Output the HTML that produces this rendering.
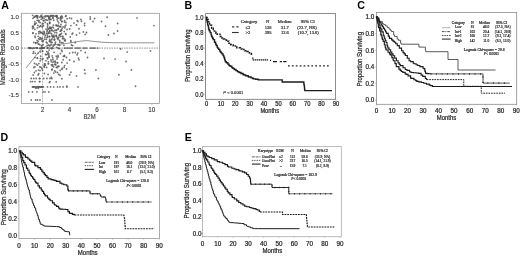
<!DOCTYPE html>
<html><head><meta charset="utf-8"><title>Figure</title>
<style>
html,body{margin:0;padding:0;background:#fff;}
body{width:520px;height:256px;overflow:hidden;font-family:"Liberation Sans",sans-serif;}
svg{display:block;}
</style></head><body>
<svg width="520" height="256" viewBox="0 0 520 256"><defs><filter id="bl" x="0" y="0" width="520" height="256" filterUnits="userSpaceOnUse"><feGaussianBlur stdDeviation="0.35"/></filter></defs><rect width="520" height="256" fill="#fff"/><g filter="url(#bl)"><text transform="translate(1.3 9.0)" font-size="10.6" text-anchor="start" font-family="Liberation Sans, sans-serif" fill="#000" stroke="#000" stroke-width="0" font-weight="bold" >A</text>
<rect x="21.5" y="13.3" width="138.0" height="90.2" fill="none" stroke="#999" stroke-width="0.8"/>
<line x1="20.3" y1="17" x2="21.5" y2="17" stroke="#999" stroke-width="0.6"/>
<text transform="translate(18.9 19.2)" font-size="6.1" text-anchor="end" font-family="Liberation Sans, sans-serif" fill="#404040" stroke="#404040" stroke-width="0.14" font-weight="normal" >1.0</text>
<line x1="20.3" y1="32.6" x2="21.5" y2="32.6" stroke="#999" stroke-width="0.6"/>
<text transform="translate(18.9 34.800000000000004)" font-size="6.1" text-anchor="end" font-family="Liberation Sans, sans-serif" fill="#404040" stroke="#404040" stroke-width="0.14" font-weight="normal" >0.5</text>
<line x1="20.3" y1="48.1" x2="21.5" y2="48.1" stroke="#999" stroke-width="0.6"/>
<text transform="translate(18.9 50.300000000000004)" font-size="6.1" text-anchor="end" font-family="Liberation Sans, sans-serif" fill="#404040" stroke="#404040" stroke-width="0.14" font-weight="normal" >0.0</text>
<line x1="20.3" y1="63.7" x2="21.5" y2="63.7" stroke="#999" stroke-width="0.6"/>
<text transform="translate(18.9 65.9)" font-size="6.1" text-anchor="end" font-family="Liberation Sans, sans-serif" fill="#404040" stroke="#404040" stroke-width="0.14" font-weight="normal" >-0.5</text>
<line x1="20.3" y1="79.3" x2="21.5" y2="79.3" stroke="#999" stroke-width="0.6"/>
<text transform="translate(18.9 81.5)" font-size="6.1" text-anchor="end" font-family="Liberation Sans, sans-serif" fill="#404040" stroke="#404040" stroke-width="0.14" font-weight="normal" >-1.0</text>
<line x1="20.3" y1="94.9" x2="21.5" y2="94.9" stroke="#999" stroke-width="0.6"/>
<text transform="translate(18.9 97.10000000000001)" font-size="6.1" text-anchor="end" font-family="Liberation Sans, sans-serif" fill="#404040" stroke="#404040" stroke-width="0.14" font-weight="normal" >-1.5</text>
<line x1="42.6" y1="103.6" x2="42.6" y2="104.8" stroke="#999" stroke-width="0.6"/>
<text transform="translate(42.6 111.55)" font-size="6.3" text-anchor="middle" font-family="Liberation Sans, sans-serif" fill="#404040" stroke="#404040" stroke-width="0.14" font-weight="normal" >2</text>
<line x1="69.6" y1="103.6" x2="69.6" y2="104.8" stroke="#999" stroke-width="0.6"/>
<text transform="translate(69.6 111.55)" font-size="6.3" text-anchor="middle" font-family="Liberation Sans, sans-serif" fill="#404040" stroke="#404040" stroke-width="0.14" font-weight="normal" >4</text>
<line x1="97" y1="103.6" x2="97" y2="104.8" stroke="#999" stroke-width="0.6"/>
<text transform="translate(97 111.55)" font-size="6.3" text-anchor="middle" font-family="Liberation Sans, sans-serif" fill="#404040" stroke="#404040" stroke-width="0.14" font-weight="normal" >6</text>
<line x1="124.4" y1="103.6" x2="124.4" y2="104.8" stroke="#999" stroke-width="0.6"/>
<text transform="translate(124.4 111.55)" font-size="6.3" text-anchor="middle" font-family="Liberation Sans, sans-serif" fill="#404040" stroke="#404040" stroke-width="0.14" font-weight="normal" >8</text>
<line x1="151.8" y1="103.6" x2="151.8" y2="104.8" stroke="#999" stroke-width="0.6"/>
<text transform="translate(151.8 111.55)" font-size="6.3" text-anchor="middle" font-family="Liberation Sans, sans-serif" fill="#404040" stroke="#404040" stroke-width="0.14" font-weight="normal" >10</text>
<text transform="translate(89.5 119.25) scale(0.9 1)" font-size="6.6" text-anchor="middle" font-family="Liberation Sans, sans-serif" fill="#404040" stroke="#404040" stroke-width="0.14" font-weight="normal" >B2M</text>
<text transform="translate(4.6 57.2) rotate(-90) scale(0.923 1)" font-size="6.5" text-anchor="middle" font-family="Liberation Sans, sans-serif" fill="#333" stroke="#333" stroke-width="0.18" font-weight="normal" >Martingale Residuals</text>
<line x1="21.5" y1="48.1" x2="159.5" y2="48.1" stroke="#777" stroke-width="0.8" stroke-dasharray="1.5 1"/>
<line x1="42.5" y1="13.5" x2="42.5" y2="103.8" stroke="#8a8a8a" stroke-width="0.6" stroke-dasharray="2 0.8"/>
<polyline points="26.00,68.00 30.00,63.00 34.00,58.00 38.00,53.00 42.50,48.00 47.00,46.00 52.00,45.00 58.00,44.30 66.00,43.60 74.00,42.30 80.00,41.20 86.50,40.60 93.00,41.30 101.50,42.20 112.00,42.70 130.00,42.80 154.50,42.80" fill="none" stroke="#666" stroke-width="0.7" stroke-linejoin="miter"/>
<circle cx="64.60" cy="20.60" r="0.9" fill="#585858" fill-opacity="0.85"/>
<circle cx="67.10" cy="18.75" r="0.9" fill="#585858" fill-opacity="0.85"/>
<circle cx="69.60" cy="18.10" r="0.9" fill="#585858" fill-opacity="0.85"/>
<circle cx="71.50" cy="18.50" r="0.9" fill="#585858" fill-opacity="0.85"/>
<circle cx="65.90" cy="22.50" r="0.9" fill="#585858" fill-opacity="0.85"/>
<circle cx="65.00" cy="26.25" r="0.9" fill="#585858" fill-opacity="0.85"/>
<circle cx="67.10" cy="29.40" r="0.9" fill="#585858" fill-opacity="0.85"/>
<circle cx="69.60" cy="29.00" r="0.9" fill="#585858" fill-opacity="0.85"/>
<circle cx="70.90" cy="25.60" r="0.9" fill="#585858" fill-opacity="0.85"/>
<circle cx="74.00" cy="23.10" r="0.9" fill="#585858" fill-opacity="0.85"/>
<circle cx="77.10" cy="20.60" r="0.9" fill="#585858" fill-opacity="0.85"/>
<circle cx="78.00" cy="21.50" r="0.9" fill="#585858" fill-opacity="0.85"/>
<circle cx="80.90" cy="19.40" r="0.9" fill="#585858" fill-opacity="0.85"/>
<circle cx="81.50" cy="21.25" r="0.9" fill="#585858" fill-opacity="0.85"/>
<circle cx="76.50" cy="25.00" r="0.9" fill="#585858" fill-opacity="0.85"/>
<circle cx="79.00" cy="28.75" r="0.9" fill="#585858" fill-opacity="0.85"/>
<circle cx="84.60" cy="23.50" r="0.9" fill="#585858" fill-opacity="0.85"/>
<circle cx="84.60" cy="25.60" r="0.9" fill="#585858" fill-opacity="0.85"/>
<circle cx="90.25" cy="16.90" r="0.9" fill="#585858" fill-opacity="0.85"/>
<circle cx="90.25" cy="19.00" r="0.9" fill="#585858" fill-opacity="0.85"/>
<circle cx="94.60" cy="18.50" r="0.9" fill="#585858" fill-opacity="0.85"/>
<circle cx="93.00" cy="21.50" r="0.9" fill="#585858" fill-opacity="0.85"/>
<circle cx="101.50" cy="21.50" r="0.9" fill="#585858" fill-opacity="0.85"/>
<circle cx="107.10" cy="17.25" r="0.9" fill="#585858" fill-opacity="0.85"/>
<circle cx="105.50" cy="26.25" r="0.9" fill="#585858" fill-opacity="0.85"/>
<circle cx="108.40" cy="35.00" r="0.9" fill="#585858" fill-opacity="0.85"/>
<circle cx="83.40" cy="31.90" r="0.9" fill="#585858" fill-opacity="0.85"/>
<circle cx="86.50" cy="32.50" r="0.9" fill="#585858" fill-opacity="0.85"/>
<circle cx="79.60" cy="33.10" r="0.9" fill="#585858" fill-opacity="0.85"/>
<circle cx="76.50" cy="35.00" r="0.9" fill="#585858" fill-opacity="0.85"/>
<circle cx="72.75" cy="33.10" r="0.9" fill="#585858" fill-opacity="0.85"/>
<circle cx="72.10" cy="34.00" r="0.9" fill="#585858" fill-opacity="0.85"/>
<circle cx="65.90" cy="34.40" r="0.9" fill="#585858" fill-opacity="0.85"/>
<circle cx="70.25" cy="36.90" r="0.9" fill="#585858" fill-opacity="0.85"/>
<circle cx="85.25" cy="34.40" r="0.9" fill="#585858" fill-opacity="0.85"/>
<circle cx="70.90" cy="40.60" r="0.9" fill="#585858" fill-opacity="0.85"/>
<circle cx="64.60" cy="40.60" r="0.9" fill="#585858" fill-opacity="0.85"/>
<circle cx="137.00" cy="18.10" r="0.9" fill="#585858" fill-opacity="0.85"/>
<circle cx="117.60" cy="23.50" r="0.9" fill="#585858" fill-opacity="0.85"/>
<circle cx="117.60" cy="31.00" r="0.9" fill="#585858" fill-opacity="0.85"/>
<circle cx="113.90" cy="33.50" r="0.9" fill="#585858" fill-opacity="0.85"/>
<circle cx="153.90" cy="25.60" r="0.9" fill="#585858" fill-opacity="0.85"/>
<circle cx="69.60" cy="53.10" r="0.9" fill="#585858" fill-opacity="0.85"/>
<circle cx="72.75" cy="52.50" r="0.9" fill="#585858" fill-opacity="0.85"/>
<circle cx="75.25" cy="52.50" r="0.9" fill="#585858" fill-opacity="0.85"/>
<circle cx="77.75" cy="53.10" r="0.9" fill="#585858" fill-opacity="0.85"/>
<circle cx="77.10" cy="54.75" r="0.9" fill="#585858" fill-opacity="0.85"/>
<circle cx="80.90" cy="50.60" r="0.9" fill="#585858" fill-opacity="0.85"/>
<circle cx="85.25" cy="52.50" r="0.9" fill="#585858" fill-opacity="0.85"/>
<circle cx="66.50" cy="57.50" r="0.9" fill="#585858" fill-opacity="0.85"/>
<circle cx="64.60" cy="56.25" r="0.9" fill="#585858" fill-opacity="0.85"/>
<circle cx="69.60" cy="60.00" r="0.9" fill="#585858" fill-opacity="0.85"/>
<circle cx="74.00" cy="61.50" r="0.9" fill="#585858" fill-opacity="0.85"/>
<circle cx="78.40" cy="58.10" r="0.9" fill="#585858" fill-opacity="0.85"/>
<circle cx="79.00" cy="59.75" r="0.9" fill="#585858" fill-opacity="0.85"/>
<circle cx="87.50" cy="57.50" r="0.9" fill="#585858" fill-opacity="0.85"/>
<circle cx="104.00" cy="58.50" r="0.9" fill="#585858" fill-opacity="0.85"/>
<circle cx="67.10" cy="63.10" r="0.9" fill="#585858" fill-opacity="0.85"/>
<circle cx="66.50" cy="69.00" r="0.9" fill="#585858" fill-opacity="0.85"/>
<circle cx="84.60" cy="70.00" r="0.9" fill="#585858" fill-opacity="0.85"/>
<circle cx="95.90" cy="70.00" r="0.9" fill="#585858" fill-opacity="0.85"/>
<circle cx="64.60" cy="65.60" r="0.9" fill="#585858" fill-opacity="0.85"/>
<circle cx="71.50" cy="45.00" r="0.9" fill="#585858" fill-opacity="0.85"/>
<circle cx="72.75" cy="45.60" r="0.9" fill="#585858" fill-opacity="0.85"/>
<circle cx="70.90" cy="41.90" r="0.9" fill="#585858" fill-opacity="0.85"/>
<circle cx="75.25" cy="42.50" r="0.9" fill="#585858" fill-opacity="0.85"/>
<circle cx="120.50" cy="49.00" r="0.9" fill="#585858" fill-opacity="0.85"/>
<circle cx="127.25" cy="52.10" r="0.9" fill="#585858" fill-opacity="0.85"/>
<circle cx="150.50" cy="50.90" r="0.9" fill="#585858" fill-opacity="0.85"/>
<circle cx="115.10" cy="59.10" r="0.9" fill="#585858" fill-opacity="0.85"/>
<circle cx="126.00" cy="61.50" r="0.9" fill="#585858" fill-opacity="0.85"/>
<circle cx="131.40" cy="70.00" r="0.9" fill="#585858" fill-opacity="0.85"/>
<circle cx="70.90" cy="72.25" r="0.9" fill="#585858" fill-opacity="0.85"/>
<circle cx="69.60" cy="74.75" r="0.9" fill="#585858" fill-opacity="0.85"/>
<circle cx="76.50" cy="75.90" r="0.9" fill="#585858" fill-opacity="0.85"/>
<circle cx="85.00" cy="73.50" r="0.9" fill="#585858" fill-opacity="0.85"/>
<circle cx="98.40" cy="78.50" r="0.9" fill="#585858" fill-opacity="0.85"/>
<circle cx="66.75" cy="86.25" r="0.9" fill="#585858" fill-opacity="0.85"/>
<circle cx="78.00" cy="86.90" r="0.9" fill="#585858" fill-opacity="0.85"/>
<circle cx="118.90" cy="74.75" r="0.9" fill="#585858" fill-opacity="0.85"/>
<circle cx="135.50" cy="86.25" r="0.9" fill="#585858" fill-opacity="0.85"/>
<circle cx="64.50" cy="48.10" r="0.9" fill="#585858" fill-opacity="0.85"/>
<circle cx="66.00" cy="48.10" r="0.9" fill="#585858" fill-opacity="0.85"/>
<circle cx="67.50" cy="48.10" r="0.9" fill="#585858" fill-opacity="0.85"/>
<circle cx="69.00" cy="48.10" r="0.9" fill="#585858" fill-opacity="0.85"/>
<circle cx="70.50" cy="48.10" r="0.9" fill="#585858" fill-opacity="0.85"/>
<circle cx="72.00" cy="48.10" r="0.9" fill="#585858" fill-opacity="0.85"/>
<circle cx="75.50" cy="48.10" r="0.9" fill="#585858" fill-opacity="0.85"/>
<circle cx="77.00" cy="48.10" r="0.9" fill="#585858" fill-opacity="0.85"/>
<circle cx="78.50" cy="48.10" r="0.9" fill="#585858" fill-opacity="0.85"/>
<circle cx="80.00" cy="48.10" r="0.9" fill="#585858" fill-opacity="0.85"/>
<circle cx="83.50" cy="48.10" r="0.9" fill="#585858" fill-opacity="0.85"/>
<circle cx="85.00" cy="48.10" r="0.9" fill="#585858" fill-opacity="0.85"/>
<circle cx="86.50" cy="48.10" r="0.9" fill="#585858" fill-opacity="0.85"/>
<circle cx="90.50" cy="48.10" r="0.9" fill="#585858" fill-opacity="0.85"/>
<circle cx="92.00" cy="48.10" r="0.9" fill="#585858" fill-opacity="0.85"/>
<circle cx="93.50" cy="48.10" r="0.9" fill="#585858" fill-opacity="0.85"/>
<circle cx="95.00" cy="48.10" r="0.9" fill="#585858" fill-opacity="0.85"/>
<circle cx="97.70" cy="48.10" r="0.9" fill="#585858" fill-opacity="0.85"/>
<circle cx="31.25" cy="78.50" r="0.9" fill="#585858" fill-opacity="0.85"/>
<circle cx="33.75" cy="78.50" r="0.9" fill="#585858" fill-opacity="0.85"/>
<circle cx="36.25" cy="78.50" r="0.9" fill="#585858" fill-opacity="0.85"/>
<circle cx="39.40" cy="78.50" r="0.9" fill="#585858" fill-opacity="0.85"/>
<circle cx="39.90" cy="78.50" r="0.9" fill="#585858" fill-opacity="0.85"/>
<circle cx="43.75" cy="78.50" r="0.9" fill="#585858" fill-opacity="0.85"/>
<circle cx="46.90" cy="78.50" r="0.9" fill="#585858" fill-opacity="0.85"/>
<circle cx="50.00" cy="78.50" r="0.9" fill="#585858" fill-opacity="0.85"/>
<circle cx="51.90" cy="78.50" r="0.9" fill="#585858" fill-opacity="0.85"/>
<circle cx="30.60" cy="81.60" r="0.9" fill="#585858" fill-opacity="0.85"/>
<circle cx="32.50" cy="81.60" r="0.9" fill="#585858" fill-opacity="0.85"/>
<circle cx="35.00" cy="81.60" r="0.9" fill="#585858" fill-opacity="0.85"/>
<circle cx="39.40" cy="81.60" r="0.9" fill="#585858" fill-opacity="0.85"/>
<circle cx="39.90" cy="81.60" r="0.9" fill="#585858" fill-opacity="0.85"/>
<circle cx="50.00" cy="81.60" r="0.9" fill="#585858" fill-opacity="0.85"/>
<circle cx="33.10" cy="86.90" r="0.9" fill="#585858" fill-opacity="0.85"/>
<circle cx="35.60" cy="86.90" r="0.9" fill="#585858" fill-opacity="0.85"/>
<circle cx="37.50" cy="86.90" r="0.9" fill="#585858" fill-opacity="0.85"/>
<circle cx="39.40" cy="86.90" r="0.9" fill="#585858" fill-opacity="0.85"/>
<circle cx="41.25" cy="86.90" r="0.9" fill="#585858" fill-opacity="0.85"/>
<circle cx="42.50" cy="86.90" r="0.9" fill="#585858" fill-opacity="0.85"/>
<circle cx="47.50" cy="86.90" r="0.9" fill="#585858" fill-opacity="0.85"/>
<circle cx="50.60" cy="86.90" r="0.9" fill="#585858" fill-opacity="0.85"/>
<circle cx="53.75" cy="86.90" r="0.9" fill="#585858" fill-opacity="0.85"/>
<circle cx="57.50" cy="86.90" r="0.9" fill="#585858" fill-opacity="0.85"/>
<circle cx="60.00" cy="86.90" r="0.9" fill="#585858" fill-opacity="0.85"/>
<circle cx="63.10" cy="86.90" r="0.9" fill="#585858" fill-opacity="0.85"/>
<circle cx="66.90" cy="86.90" r="0.9" fill="#585858" fill-opacity="0.85"/>
<circle cx="35.60" cy="88.10" r="0.9" fill="#585858" fill-opacity="0.85"/>
<circle cx="36.90" cy="88.10" r="0.9" fill="#585858" fill-opacity="0.85"/>
<circle cx="38.50" cy="88.10" r="0.9" fill="#585858" fill-opacity="0.85"/>
<circle cx="32.50" cy="86.90" r="0.9" fill="#585858" fill-opacity="0.85"/>
<circle cx="33.60" cy="86.90" r="0.9" fill="#585858" fill-opacity="0.85"/>
<circle cx="34.50" cy="86.90" r="0.9" fill="#585858" fill-opacity="0.85"/>
<circle cx="36.30" cy="86.90" r="0.9" fill="#585858" fill-opacity="0.85"/>
<circle cx="38.20" cy="86.90" r="0.9" fill="#585858" fill-opacity="0.85"/>
<circle cx="38.90" cy="86.90" r="0.9" fill="#585858" fill-opacity="0.85"/>
<circle cx="40.30" cy="86.90" r="0.9" fill="#585858" fill-opacity="0.85"/>
<circle cx="40.90" cy="86.90" r="0.9" fill="#585858" fill-opacity="0.85"/>
<circle cx="41.90" cy="86.90" r="0.9" fill="#585858" fill-opacity="0.85"/>
<circle cx="43.40" cy="86.90" r="0.9" fill="#585858" fill-opacity="0.85"/>
<circle cx="28.75" cy="91.90" r="0.9" fill="#585858" fill-opacity="0.85"/>
<circle cx="32.50" cy="91.90" r="0.9" fill="#585858" fill-opacity="0.85"/>
<circle cx="36.90" cy="91.90" r="0.9" fill="#585858" fill-opacity="0.85"/>
<circle cx="43.10" cy="91.90" r="0.9" fill="#585858" fill-opacity="0.85"/>
<circle cx="45.00" cy="91.90" r="0.9" fill="#585858" fill-opacity="0.85"/>
<circle cx="48.75" cy="91.90" r="0.9" fill="#585858" fill-opacity="0.85"/>
<circle cx="31.25" cy="100.00" r="0.9" fill="#585858" fill-opacity="0.85"/>
<circle cx="35.60" cy="100.00" r="0.9" fill="#585858" fill-opacity="0.85"/>
<circle cx="37.50" cy="100.00" r="0.9" fill="#585858" fill-opacity="0.85"/>
<circle cx="40.00" cy="100.00" r="0.9" fill="#585858" fill-opacity="0.85"/>
<circle cx="51.90" cy="100.00" r="0.9" fill="#585858" fill-opacity="0.85"/>
<circle cx="33.10" cy="75.00" r="0.9" fill="#585858" fill-opacity="0.85"/>
<circle cx="34.40" cy="72.50" r="0.9" fill="#585858" fill-opacity="0.85"/>
<circle cx="38.10" cy="75.00" r="0.9" fill="#585858" fill-opacity="0.85"/>
<circle cx="38.75" cy="73.75" r="0.9" fill="#585858" fill-opacity="0.85"/>
<circle cx="40.00" cy="70.60" r="0.9" fill="#585858" fill-opacity="0.85"/>
<circle cx="44.40" cy="73.50" r="0.9" fill="#585858" fill-opacity="0.85"/>
<circle cx="48.10" cy="74.40" r="0.9" fill="#585858" fill-opacity="0.85"/>
<circle cx="51.25" cy="77.50" r="0.9" fill="#585858" fill-opacity="0.85"/>
<circle cx="53.75" cy="73.10" r="0.9" fill="#585858" fill-opacity="0.85"/>
<circle cx="55.60" cy="71.90" r="0.9" fill="#585858" fill-opacity="0.85"/>
<circle cx="57.50" cy="72.50" r="0.9" fill="#585858" fill-opacity="0.85"/>
<circle cx="58.75" cy="74.40" r="0.9" fill="#585858" fill-opacity="0.85"/>
<circle cx="60.00" cy="75.25" r="0.9" fill="#585858" fill-opacity="0.85"/>
<circle cx="61.90" cy="78.75" r="0.9" fill="#585858" fill-opacity="0.85"/>
<circle cx="56.25" cy="81.90" r="0.9" fill="#585858" fill-opacity="0.85"/>
<circle cx="49.40" cy="82.50" r="0.9" fill="#585858" fill-opacity="0.85"/>
<circle cx="41.98" cy="47.57" r="0.9" fill="#585858" fill-opacity="0.85"/>
<circle cx="42.40" cy="47.89" r="0.9" fill="#585858" fill-opacity="0.85"/>
<circle cx="43.75" cy="47.96" r="0.9" fill="#585858" fill-opacity="0.85"/>
<circle cx="43.88" cy="48.02" r="0.9" fill="#585858" fill-opacity="0.85"/>
<circle cx="47.66" cy="48.13" r="0.9" fill="#585858" fill-opacity="0.85"/>
<circle cx="37.21" cy="47.99" r="0.9" fill="#585858" fill-opacity="0.85"/>
<circle cx="30.40" cy="48.24" r="0.9" fill="#585858" fill-opacity="0.85"/>
<circle cx="28.84" cy="47.74" r="0.9" fill="#585858" fill-opacity="0.85"/>
<circle cx="58.93" cy="48.46" r="0.9" fill="#585858" fill-opacity="0.85"/>
<circle cx="47.20" cy="48.02" r="0.9" fill="#585858" fill-opacity="0.85"/>
<circle cx="32.54" cy="48.41" r="0.9" fill="#585858" fill-opacity="0.85"/>
<circle cx="29.41" cy="48.13" r="0.9" fill="#585858" fill-opacity="0.85"/>
<circle cx="33.59" cy="48.10" r="0.9" fill="#585858" fill-opacity="0.85"/>
<circle cx="42.35" cy="48.16" r="0.9" fill="#585858" fill-opacity="0.85"/>
<circle cx="41.60" cy="48.27" r="0.9" fill="#585858" fill-opacity="0.85"/>
<circle cx="47.99" cy="47.85" r="0.9" fill="#585858" fill-opacity="0.85"/>
<circle cx="43.49" cy="47.96" r="0.9" fill="#585858" fill-opacity="0.85"/>
<circle cx="36.40" cy="47.86" r="0.9" fill="#585858" fill-opacity="0.85"/>
<circle cx="59.42" cy="48.58" r="0.9" fill="#585858" fill-opacity="0.85"/>
<circle cx="50.15" cy="48.09" r="0.9" fill="#585858" fill-opacity="0.85"/>
<circle cx="37.59" cy="48.13" r="0.9" fill="#585858" fill-opacity="0.85"/>
<circle cx="29.75" cy="48.30" r="0.9" fill="#585858" fill-opacity="0.85"/>
<circle cx="52.02" cy="47.71" r="0.9" fill="#585858" fill-opacity="0.85"/>
<circle cx="39.87" cy="48.38" r="0.9" fill="#585858" fill-opacity="0.85"/>
<circle cx="58.16" cy="48.10" r="0.9" fill="#585858" fill-opacity="0.85"/>
<circle cx="34.21" cy="48.09" r="0.9" fill="#585858" fill-opacity="0.85"/>
<circle cx="56.63" cy="47.41" r="0.9" fill="#585858" fill-opacity="0.85"/>
<circle cx="40.22" cy="48.23" r="0.9" fill="#585858" fill-opacity="0.85"/>
<circle cx="29.84" cy="47.80" r="0.9" fill="#585858" fill-opacity="0.85"/>
<circle cx="36.13" cy="47.78" r="0.9" fill="#585858" fill-opacity="0.85"/>
<circle cx="30.29" cy="47.78" r="0.9" fill="#585858" fill-opacity="0.85"/>
<circle cx="51.76" cy="48.66" r="0.9" fill="#585858" fill-opacity="0.85"/>
<circle cx="31.28" cy="48.10" r="0.9" fill="#585858" fill-opacity="0.85"/>
<circle cx="29.42" cy="48.22" r="0.9" fill="#585858" fill-opacity="0.85"/>
<circle cx="53.00" cy="48.24" r="0.9" fill="#585858" fill-opacity="0.85"/>
<circle cx="41.82" cy="48.39" r="0.9" fill="#585858" fill-opacity="0.85"/>
<circle cx="58.05" cy="44.98" r="0.9" fill="#585858" fill-opacity="0.85"/>
<circle cx="59.83" cy="42.00" r="0.9" fill="#585858" fill-opacity="0.85"/>
<circle cx="43.54" cy="20.59" r="0.9" fill="#585858" fill-opacity="0.85"/>
<circle cx="35.98" cy="33.82" r="0.9" fill="#585858" fill-opacity="0.85"/>
<circle cx="57.94" cy="38.17" r="0.9" fill="#585858" fill-opacity="0.85"/>
<circle cx="48.78" cy="17.01" r="0.9" fill="#585858" fill-opacity="0.85"/>
<circle cx="55.89" cy="25.27" r="0.9" fill="#585858" fill-opacity="0.85"/>
<circle cx="38.22" cy="41.37" r="0.9" fill="#585858" fill-opacity="0.85"/>
<circle cx="57.17" cy="19.82" r="0.9" fill="#585858" fill-opacity="0.85"/>
<circle cx="60.45" cy="20.01" r="0.9" fill="#585858" fill-opacity="0.85"/>
<circle cx="44.93" cy="37.05" r="0.9" fill="#585858" fill-opacity="0.85"/>
<circle cx="51.06" cy="44.26" r="0.9" fill="#585858" fill-opacity="0.85"/>
<circle cx="42.23" cy="26.79" r="0.9" fill="#585858" fill-opacity="0.85"/>
<circle cx="58.78" cy="44.69" r="0.9" fill="#585858" fill-opacity="0.85"/>
<circle cx="57.82" cy="21.36" r="0.9" fill="#585858" fill-opacity="0.85"/>
<circle cx="51.44" cy="39.90" r="0.9" fill="#585858" fill-opacity="0.85"/>
<circle cx="44.32" cy="32.34" r="0.9" fill="#585858" fill-opacity="0.85"/>
<circle cx="52.20" cy="36.42" r="0.9" fill="#585858" fill-opacity="0.85"/>
<circle cx="60.23" cy="31.14" r="0.9" fill="#585858" fill-opacity="0.85"/>
<circle cx="40.19" cy="22.56" r="0.9" fill="#585858" fill-opacity="0.85"/>
<circle cx="65.94" cy="15.77" r="0.9" fill="#585858" fill-opacity="0.85"/>
<circle cx="49.69" cy="22.24" r="0.9" fill="#585858" fill-opacity="0.85"/>
<circle cx="49.72" cy="19.64" r="0.9" fill="#585858" fill-opacity="0.85"/>
<circle cx="56.90" cy="25.18" r="0.9" fill="#585858" fill-opacity="0.85"/>
<circle cx="47.69" cy="24.98" r="0.9" fill="#585858" fill-opacity="0.85"/>
<circle cx="51.20" cy="42.21" r="0.9" fill="#585858" fill-opacity="0.85"/>
<circle cx="52.02" cy="35.45" r="0.9" fill="#585858" fill-opacity="0.85"/>
<circle cx="47.73" cy="16.15" r="0.9" fill="#585858" fill-opacity="0.85"/>
<circle cx="50.52" cy="15.80" r="0.9" fill="#585858" fill-opacity="0.85"/>
<circle cx="43.22" cy="44.70" r="0.9" fill="#585858" fill-opacity="0.85"/>
<circle cx="58.16" cy="28.68" r="0.9" fill="#585858" fill-opacity="0.85"/>
<circle cx="53.14" cy="45.98" r="0.9" fill="#585858" fill-opacity="0.85"/>
<circle cx="42.77" cy="17.06" r="0.9" fill="#585858" fill-opacity="0.85"/>
<circle cx="35.80" cy="42.53" r="0.9" fill="#585858" fill-opacity="0.85"/>
<circle cx="47.84" cy="36.98" r="0.9" fill="#585858" fill-opacity="0.85"/>
<circle cx="47.26" cy="43.04" r="0.9" fill="#585858" fill-opacity="0.85"/>
<circle cx="34.68" cy="24.67" r="0.9" fill="#585858" fill-opacity="0.85"/>
<circle cx="42.98" cy="41.52" r="0.9" fill="#585858" fill-opacity="0.85"/>
<circle cx="32.58" cy="26.66" r="0.9" fill="#585858" fill-opacity="0.85"/>
<circle cx="64.19" cy="31.57" r="0.9" fill="#585858" fill-opacity="0.85"/>
<circle cx="32.89" cy="33.26" r="0.9" fill="#585858" fill-opacity="0.85"/>
<circle cx="41.56" cy="32.74" r="0.9" fill="#585858" fill-opacity="0.85"/>
<circle cx="53.48" cy="36.68" r="0.9" fill="#585858" fill-opacity="0.85"/>
<circle cx="38.76" cy="31.83" r="0.9" fill="#585858" fill-opacity="0.85"/>
<circle cx="34.06" cy="17.26" r="0.9" fill="#585858" fill-opacity="0.85"/>
<circle cx="54.89" cy="32.49" r="0.9" fill="#585858" fill-opacity="0.85"/>
<circle cx="51.00" cy="28.64" r="0.9" fill="#585858" fill-opacity="0.85"/>
<circle cx="58.21" cy="29.16" r="0.9" fill="#585858" fill-opacity="0.85"/>
<circle cx="34.75" cy="21.86" r="0.9" fill="#585858" fill-opacity="0.85"/>
<circle cx="36.54" cy="15.68" r="0.9" fill="#585858" fill-opacity="0.85"/>
<circle cx="47.73" cy="20.36" r="0.9" fill="#585858" fill-opacity="0.85"/>
<circle cx="46.34" cy="42.23" r="0.9" fill="#585858" fill-opacity="0.85"/>
<circle cx="42.29" cy="23.93" r="0.9" fill="#585858" fill-opacity="0.85"/>
<circle cx="49.68" cy="27.08" r="0.9" fill="#585858" fill-opacity="0.85"/>
<circle cx="46.40" cy="39.30" r="0.9" fill="#585858" fill-opacity="0.85"/>
<circle cx="40.69" cy="25.66" r="0.9" fill="#585858" fill-opacity="0.85"/>
<circle cx="44.11" cy="18.58" r="0.9" fill="#585858" fill-opacity="0.85"/>
<circle cx="48.27" cy="29.13" r="0.9" fill="#585858" fill-opacity="0.85"/>
<circle cx="35.01" cy="36.11" r="0.9" fill="#585858" fill-opacity="0.85"/>
<circle cx="50.96" cy="19.45" r="0.9" fill="#585858" fill-opacity="0.85"/>
<circle cx="44.02" cy="20.68" r="0.9" fill="#585858" fill-opacity="0.85"/>
<circle cx="59.17" cy="26.56" r="0.9" fill="#585858" fill-opacity="0.85"/>
<circle cx="43.34" cy="23.59" r="0.9" fill="#585858" fill-opacity="0.85"/>
<circle cx="43.25" cy="40.43" r="0.9" fill="#585858" fill-opacity="0.85"/>
<circle cx="52.88" cy="17.04" r="0.9" fill="#585858" fill-opacity="0.85"/>
<circle cx="62.11" cy="16.29" r="0.9" fill="#585858" fill-opacity="0.85"/>
<circle cx="49.70" cy="23.40" r="0.9" fill="#585858" fill-opacity="0.85"/>
<circle cx="38.65" cy="38.81" r="0.9" fill="#585858" fill-opacity="0.85"/>
<circle cx="64.89" cy="27.83" r="0.9" fill="#585858" fill-opacity="0.85"/>
<circle cx="55.98" cy="15.93" r="0.9" fill="#585858" fill-opacity="0.85"/>
<circle cx="61.22" cy="18.70" r="0.9" fill="#585858" fill-opacity="0.85"/>
<circle cx="45.48" cy="16.40" r="0.9" fill="#585858" fill-opacity="0.85"/>
<circle cx="44.21" cy="33.43" r="0.9" fill="#585858" fill-opacity="0.85"/>
<circle cx="43.72" cy="34.25" r="0.9" fill="#585858" fill-opacity="0.85"/>
<circle cx="50.69" cy="28.46" r="0.9" fill="#585858" fill-opacity="0.85"/>
<circle cx="45.92" cy="19.71" r="0.9" fill="#585858" fill-opacity="0.85"/>
<circle cx="56.18" cy="36.21" r="0.9" fill="#585858" fill-opacity="0.85"/>
<circle cx="61.03" cy="24.49" r="0.9" fill="#585858" fill-opacity="0.85"/>
<circle cx="48.85" cy="32.92" r="0.9" fill="#585858" fill-opacity="0.85"/>
<circle cx="39.76" cy="37.62" r="0.9" fill="#585858" fill-opacity="0.85"/>
<circle cx="37.38" cy="42.74" r="0.9" fill="#585858" fill-opacity="0.85"/>
<circle cx="53.40" cy="27.79" r="0.9" fill="#585858" fill-opacity="0.85"/>
<circle cx="47.12" cy="33.28" r="0.9" fill="#585858" fill-opacity="0.85"/>
<circle cx="47.10" cy="31.44" r="0.9" fill="#585858" fill-opacity="0.85"/>
<circle cx="38.94" cy="44.05" r="0.9" fill="#585858" fill-opacity="0.85"/>
<circle cx="37.16" cy="20.43" r="0.9" fill="#585858" fill-opacity="0.85"/>
<circle cx="60.73" cy="36.47" r="0.9" fill="#585858" fill-opacity="0.85"/>
<circle cx="38.21" cy="36.33" r="0.9" fill="#585858" fill-opacity="0.85"/>
<circle cx="63.94" cy="45.32" r="0.9" fill="#585858" fill-opacity="0.85"/>
<circle cx="52.07" cy="38.78" r="0.9" fill="#585858" fill-opacity="0.85"/>
<circle cx="41.98" cy="41.00" r="0.9" fill="#585858" fill-opacity="0.85"/>
<circle cx="51.07" cy="27.39" r="0.9" fill="#585858" fill-opacity="0.85"/>
<circle cx="60.93" cy="30.85" r="0.9" fill="#585858" fill-opacity="0.85"/>
<circle cx="57.14" cy="16.01" r="0.9" fill="#585858" fill-opacity="0.85"/>
<circle cx="39.74" cy="39.41" r="0.9" fill="#585858" fill-opacity="0.85"/>
<circle cx="62.54" cy="38.69" r="0.9" fill="#585858" fill-opacity="0.85"/>
<circle cx="61.35" cy="29.77" r="0.9" fill="#585858" fill-opacity="0.85"/>
<circle cx="62.89" cy="36.52" r="0.9" fill="#585858" fill-opacity="0.85"/>
<circle cx="38.31" cy="44.10" r="0.9" fill="#585858" fill-opacity="0.85"/>
<circle cx="56.82" cy="17.32" r="0.9" fill="#585858" fill-opacity="0.85"/>
<circle cx="58.69" cy="22.85" r="0.9" fill="#585858" fill-opacity="0.85"/>
<circle cx="51.86" cy="29.97" r="0.9" fill="#585858" fill-opacity="0.85"/>
<circle cx="37.15" cy="40.58" r="0.9" fill="#585858" fill-opacity="0.85"/>
<circle cx="43.54" cy="25.56" r="0.9" fill="#585858" fill-opacity="0.85"/>
<circle cx="49.94" cy="40.64" r="0.9" fill="#585858" fill-opacity="0.85"/>
<circle cx="65.26" cy="40.83" r="0.9" fill="#585858" fill-opacity="0.85"/>
<circle cx="48.77" cy="44.90" r="0.9" fill="#585858" fill-opacity="0.85"/>
<circle cx="38.33" cy="20.32" r="0.9" fill="#585858" fill-opacity="0.85"/>
<circle cx="51.73" cy="30.39" r="0.9" fill="#585858" fill-opacity="0.85"/>
<circle cx="37.63" cy="15.99" r="0.9" fill="#585858" fill-opacity="0.85"/>
<circle cx="54.44" cy="44.93" r="0.9" fill="#585858" fill-opacity="0.85"/>
<circle cx="41.24" cy="39.13" r="0.9" fill="#585858" fill-opacity="0.85"/>
<circle cx="53.23" cy="31.25" r="0.9" fill="#585858" fill-opacity="0.85"/>
<circle cx="36.12" cy="16.84" r="0.9" fill="#585858" fill-opacity="0.85"/>
<circle cx="56.34" cy="30.47" r="0.9" fill="#585858" fill-opacity="0.85"/>
<circle cx="49.24" cy="28.40" r="0.9" fill="#585858" fill-opacity="0.85"/>
<circle cx="32.62" cy="28.50" r="0.9" fill="#585858" fill-opacity="0.85"/>
<circle cx="50.68" cy="33.03" r="0.9" fill="#585858" fill-opacity="0.85"/>
<circle cx="63.52" cy="38.40" r="0.9" fill="#585858" fill-opacity="0.85"/>
<circle cx="51.12" cy="15.89" r="0.9" fill="#585858" fill-opacity="0.85"/>
<circle cx="59.21" cy="35.31" r="0.9" fill="#585858" fill-opacity="0.85"/>
<circle cx="48.62" cy="33.09" r="0.9" fill="#585858" fill-opacity="0.85"/>
<circle cx="54.85" cy="30.21" r="0.9" fill="#585858" fill-opacity="0.85"/>
<circle cx="42.48" cy="26.54" r="0.9" fill="#585858" fill-opacity="0.85"/>
<circle cx="61.65" cy="30.18" r="0.9" fill="#585858" fill-opacity="0.85"/>
<circle cx="61.41" cy="33.47" r="0.9" fill="#585858" fill-opacity="0.85"/>
<circle cx="65.60" cy="33.71" r="0.9" fill="#585858" fill-opacity="0.85"/>
<circle cx="32.98" cy="32.83" r="0.9" fill="#585858" fill-opacity="0.85"/>
<circle cx="49.31" cy="41.03" r="0.9" fill="#585858" fill-opacity="0.85"/>
<circle cx="57.97" cy="39.45" r="0.9" fill="#585858" fill-opacity="0.85"/>
<circle cx="47.38" cy="23.58" r="0.9" fill="#585858" fill-opacity="0.85"/>
<circle cx="49.80" cy="45.94" r="0.9" fill="#585858" fill-opacity="0.85"/>
<circle cx="62.28" cy="21.39" r="0.9" fill="#585858" fill-opacity="0.85"/>
<circle cx="49.50" cy="36.62" r="0.9" fill="#585858" fill-opacity="0.85"/>
<circle cx="54.44" cy="40.19" r="0.9" fill="#585858" fill-opacity="0.85"/>
<circle cx="63.14" cy="26.80" r="0.9" fill="#585858" fill-opacity="0.85"/>
<circle cx="57.09" cy="26.22" r="0.9" fill="#585858" fill-opacity="0.85"/>
<circle cx="47.35" cy="35.25" r="0.9" fill="#585858" fill-opacity="0.85"/>
<circle cx="56.14" cy="35.15" r="0.9" fill="#585858" fill-opacity="0.85"/>
<circle cx="37.39" cy="18.05" r="0.9" fill="#585858" fill-opacity="0.85"/>
<circle cx="34.82" cy="29.33" r="0.9" fill="#585858" fill-opacity="0.85"/>
<circle cx="53.90" cy="35.26" r="0.9" fill="#585858" fill-opacity="0.85"/>
<circle cx="57.34" cy="17.81" r="0.9" fill="#585858" fill-opacity="0.85"/>
<circle cx="61.25" cy="16.20" r="0.9" fill="#585858" fill-opacity="0.85"/>
<circle cx="39.83" cy="31.44" r="0.9" fill="#585858" fill-opacity="0.85"/>
<circle cx="48.99" cy="18.85" r="0.9" fill="#585858" fill-opacity="0.85"/>
<circle cx="59.64" cy="40.47" r="0.9" fill="#585858" fill-opacity="0.85"/>
<circle cx="52.64" cy="17.54" r="0.9" fill="#585858" fill-opacity="0.85"/>
<circle cx="35.07" cy="23.93" r="0.9" fill="#585858" fill-opacity="0.85"/>
<circle cx="62.16" cy="28.20" r="0.9" fill="#585858" fill-opacity="0.85"/>
<circle cx="40.71" cy="32.48" r="0.9" fill="#585858" fill-opacity="0.85"/>
<circle cx="53.23" cy="15.71" r="0.9" fill="#585858" fill-opacity="0.85"/>
<circle cx="46.27" cy="19.78" r="0.9" fill="#585858" fill-opacity="0.85"/>
<circle cx="33.59" cy="27.80" r="0.9" fill="#585858" fill-opacity="0.85"/>
<circle cx="53.77" cy="20.16" r="0.9" fill="#585858" fill-opacity="0.85"/>
<circle cx="41.12" cy="19.34" r="0.9" fill="#585858" fill-opacity="0.85"/>
<circle cx="52.07" cy="42.28" r="0.9" fill="#585858" fill-opacity="0.85"/>
<circle cx="54.65" cy="39.15" r="0.9" fill="#585858" fill-opacity="0.85"/>
<circle cx="46.62" cy="33.41" r="0.9" fill="#585858" fill-opacity="0.85"/>
<circle cx="33.08" cy="26.27" r="0.9" fill="#585858" fill-opacity="0.85"/>
<circle cx="41.75" cy="45.39" r="0.9" fill="#585858" fill-opacity="0.85"/>
<circle cx="44.88" cy="39.26" r="0.9" fill="#585858" fill-opacity="0.85"/>
<circle cx="53.03" cy="37.22" r="0.9" fill="#585858" fill-opacity="0.85"/>
<circle cx="60.60" cy="26.31" r="0.9" fill="#585858" fill-opacity="0.85"/>
<circle cx="33.83" cy="42.40" r="0.9" fill="#585858" fill-opacity="0.85"/>
<circle cx="40.71" cy="37.99" r="0.9" fill="#585858" fill-opacity="0.85"/>
<circle cx="56.54" cy="36.49" r="0.9" fill="#585858" fill-opacity="0.85"/>
<circle cx="41.14" cy="16.95" r="0.9" fill="#585858" fill-opacity="0.85"/>
<circle cx="45.90" cy="15.66" r="0.9" fill="#585858" fill-opacity="0.85"/>
<circle cx="42.66" cy="33.23" r="0.9" fill="#585858" fill-opacity="0.85"/>
<circle cx="59.64" cy="34.61" r="0.9" fill="#585858" fill-opacity="0.85"/>
<circle cx="43.95" cy="31.47" r="0.9" fill="#585858" fill-opacity="0.85"/>
<circle cx="41.61" cy="46.00" r="0.9" fill="#585858" fill-opacity="0.85"/>
<circle cx="51.62" cy="33.83" r="0.9" fill="#585858" fill-opacity="0.85"/>
<circle cx="47.24" cy="45.30" r="0.9" fill="#585858" fill-opacity="0.85"/>
<circle cx="35.39" cy="15.89" r="0.9" fill="#585858" fill-opacity="0.85"/>
<circle cx="38.95" cy="21.88" r="0.9" fill="#585858" fill-opacity="0.85"/>
<circle cx="40.38" cy="26.18" r="0.9" fill="#585858" fill-opacity="0.85"/>
<circle cx="58.46" cy="25.39" r="0.9" fill="#585858" fill-opacity="0.85"/>
<circle cx="62.93" cy="42.71" r="0.9" fill="#585858" fill-opacity="0.85"/>
<circle cx="39.90" cy="44.85" r="0.9" fill="#585858" fill-opacity="0.85"/>
<circle cx="49.21" cy="31.41" r="0.9" fill="#585858" fill-opacity="0.85"/>
<circle cx="54.16" cy="39.42" r="0.9" fill="#585858" fill-opacity="0.85"/>
<circle cx="55.18" cy="43.56" r="0.9" fill="#585858" fill-opacity="0.85"/>
<circle cx="50.15" cy="19.21" r="0.9" fill="#585858" fill-opacity="0.85"/>
<circle cx="46.08" cy="29.10" r="0.9" fill="#585858" fill-opacity="0.85"/>
<circle cx="56.71" cy="32.81" r="0.9" fill="#585858" fill-opacity="0.85"/>
<circle cx="40.51" cy="32.38" r="0.9" fill="#585858" fill-opacity="0.85"/>
<circle cx="65.90" cy="25.09" r="0.9" fill="#585858" fill-opacity="0.85"/>
<circle cx="49.83" cy="31.18" r="0.9" fill="#585858" fill-opacity="0.85"/>
<circle cx="49.73" cy="23.02" r="0.9" fill="#585858" fill-opacity="0.85"/>
<circle cx="56.00" cy="16.31" r="0.9" fill="#585858" fill-opacity="0.85"/>
<circle cx="35.14" cy="37.35" r="0.9" fill="#585858" fill-opacity="0.85"/>
<circle cx="61.49" cy="42.71" r="0.9" fill="#585858" fill-opacity="0.85"/>
<circle cx="52.72" cy="27.04" r="0.9" fill="#585858" fill-opacity="0.85"/>
<circle cx="61.68" cy="21.51" r="0.9" fill="#585858" fill-opacity="0.85"/>
<circle cx="49.56" cy="36.50" r="0.9" fill="#585858" fill-opacity="0.85"/>
<circle cx="65.14" cy="39.66" r="0.9" fill="#585858" fill-opacity="0.85"/>
<circle cx="48.86" cy="33.24" r="0.9" fill="#585858" fill-opacity="0.85"/>
<circle cx="50.20" cy="27.85" r="0.9" fill="#585858" fill-opacity="0.85"/>
<circle cx="56.48" cy="30.14" r="0.9" fill="#585858" fill-opacity="0.85"/>
<circle cx="60.45" cy="18.27" r="0.9" fill="#585858" fill-opacity="0.85"/>
<circle cx="37.38" cy="27.85" r="0.9" fill="#585858" fill-opacity="0.85"/>
<circle cx="64.58" cy="22.04" r="0.9" fill="#585858" fill-opacity="0.85"/>
<circle cx="42.35" cy="38.35" r="0.9" fill="#585858" fill-opacity="0.85"/>
<circle cx="47.18" cy="30.22" r="0.9" fill="#585858" fill-opacity="0.85"/>
<circle cx="54.28" cy="36.88" r="0.9" fill="#585858" fill-opacity="0.85"/>
<circle cx="55.48" cy="42.27" r="0.9" fill="#585858" fill-opacity="0.85"/>
<circle cx="63.94" cy="38.57" r="0.9" fill="#585858" fill-opacity="0.85"/>
<circle cx="45.21" cy="22.31" r="0.9" fill="#585858" fill-opacity="0.85"/>
<circle cx="45.21" cy="35.24" r="0.9" fill="#585858" fill-opacity="0.85"/>
<circle cx="38.93" cy="33.53" r="0.9" fill="#585858" fill-opacity="0.85"/>
<circle cx="46.98" cy="37.52" r="0.9" fill="#585858" fill-opacity="0.85"/>
<circle cx="59.81" cy="45.29" r="0.9" fill="#585858" fill-opacity="0.85"/>
<circle cx="40.90" cy="16.24" r="0.9" fill="#585858" fill-opacity="0.85"/>
<circle cx="60.13" cy="26.91" r="0.9" fill="#585858" fill-opacity="0.85"/>
<circle cx="49.73" cy="30.57" r="0.9" fill="#585858" fill-opacity="0.85"/>
<circle cx="49.83" cy="16.99" r="0.9" fill="#585858" fill-opacity="0.85"/>
<circle cx="37.83" cy="25.32" r="0.9" fill="#585858" fill-opacity="0.85"/>
<circle cx="48.18" cy="28.57" r="0.9" fill="#585858" fill-opacity="0.85"/>
<circle cx="58.80" cy="37.24" r="0.9" fill="#585858" fill-opacity="0.85"/>
<circle cx="58.49" cy="18.16" r="0.9" fill="#585858" fill-opacity="0.85"/>
<circle cx="49.71" cy="39.41" r="0.9" fill="#585858" fill-opacity="0.85"/>
<circle cx="39.02" cy="20.66" r="0.9" fill="#585858" fill-opacity="0.85"/>
<circle cx="39.21" cy="26.88" r="0.9" fill="#585858" fill-opacity="0.85"/>
<circle cx="53.38" cy="25.19" r="0.9" fill="#585858" fill-opacity="0.85"/>
<circle cx="34.59" cy="23.89" r="0.9" fill="#585858" fill-opacity="0.85"/>
<circle cx="35.69" cy="43.24" r="0.9" fill="#585858" fill-opacity="0.85"/>
<circle cx="47.41" cy="26.98" r="0.9" fill="#585858" fill-opacity="0.85"/>
<circle cx="50.09" cy="41.66" r="0.9" fill="#585858" fill-opacity="0.85"/>
<circle cx="60.78" cy="17.13" r="0.9" fill="#585858" fill-opacity="0.85"/>
<circle cx="36.26" cy="23.11" r="0.9" fill="#585858" fill-opacity="0.85"/>
<circle cx="57.36" cy="38.27" r="0.9" fill="#585858" fill-opacity="0.85"/>
<circle cx="60.55" cy="34.48" r="0.9" fill="#585858" fill-opacity="0.85"/>
<circle cx="62.48" cy="36.57" r="0.9" fill="#585858" fill-opacity="0.85"/>
<circle cx="50.67" cy="15.76" r="0.9" fill="#585858" fill-opacity="0.85"/>
<circle cx="44.44" cy="16.44" r="0.9" fill="#585858" fill-opacity="0.85"/>
<circle cx="52.67" cy="15.68" r="0.9" fill="#585858" fill-opacity="0.85"/>
<circle cx="42.43" cy="17.57" r="0.9" fill="#585858" fill-opacity="0.85"/>
<circle cx="32.87" cy="18.31" r="0.9" fill="#585858" fill-opacity="0.85"/>
<circle cx="42.43" cy="18.22" r="0.9" fill="#585858" fill-opacity="0.85"/>
<circle cx="35.62" cy="16.28" r="0.9" fill="#585858" fill-opacity="0.85"/>
<circle cx="48.81" cy="18.29" r="0.9" fill="#585858" fill-opacity="0.85"/>
<circle cx="65.55" cy="16.46" r="0.9" fill="#585858" fill-opacity="0.85"/>
<circle cx="48.18" cy="16.47" r="0.9" fill="#585858" fill-opacity="0.85"/>
<circle cx="45.75" cy="16.54" r="0.9" fill="#585858" fill-opacity="0.85"/>
<circle cx="62.44" cy="17.85" r="0.9" fill="#585858" fill-opacity="0.85"/>
<circle cx="34.25" cy="17.10" r="0.9" fill="#585858" fill-opacity="0.85"/>
<circle cx="47.97" cy="15.87" r="0.9" fill="#585858" fill-opacity="0.85"/>
<circle cx="56.76" cy="16.20" r="0.9" fill="#585858" fill-opacity="0.85"/>
<circle cx="32.67" cy="15.37" r="0.9" fill="#585858" fill-opacity="0.85"/>
<circle cx="39.33" cy="17.12" r="0.9" fill="#585858" fill-opacity="0.85"/>
<circle cx="52.98" cy="18.39" r="0.9" fill="#585858" fill-opacity="0.85"/>
<circle cx="41.30" cy="15.50" r="0.9" fill="#585858" fill-opacity="0.85"/>
<circle cx="37.29" cy="17.05" r="0.9" fill="#585858" fill-opacity="0.85"/>
<circle cx="56.49" cy="15.56" r="0.9" fill="#585858" fill-opacity="0.85"/>
<circle cx="48.94" cy="17.66" r="0.9" fill="#585858" fill-opacity="0.85"/>
<circle cx="60.63" cy="17.33" r="0.9" fill="#585858" fill-opacity="0.85"/>
<circle cx="51.13" cy="15.76" r="0.9" fill="#585858" fill-opacity="0.85"/>
<circle cx="54.28" cy="16.09" r="0.9" fill="#585858" fill-opacity="0.85"/>
<circle cx="37.49" cy="16.01" r="0.9" fill="#585858" fill-opacity="0.85"/>
<circle cx="52.40" cy="66.06" r="0.9" fill="#585858" fill-opacity="0.85"/>
<circle cx="37.72" cy="58.28" r="0.9" fill="#585858" fill-opacity="0.85"/>
<circle cx="36.33" cy="64.12" r="0.9" fill="#585858" fill-opacity="0.85"/>
<circle cx="37.45" cy="65.14" r="0.9" fill="#585858" fill-opacity="0.85"/>
<circle cx="51.46" cy="64.87" r="0.9" fill="#585858" fill-opacity="0.85"/>
<circle cx="44.39" cy="67.35" r="0.9" fill="#585858" fill-opacity="0.85"/>
<circle cx="39.76" cy="66.92" r="0.9" fill="#585858" fill-opacity="0.85"/>
<circle cx="33.92" cy="67.51" r="0.9" fill="#585858" fill-opacity="0.85"/>
<circle cx="34.47" cy="63.45" r="0.9" fill="#585858" fill-opacity="0.85"/>
<circle cx="34.95" cy="66.85" r="0.9" fill="#585858" fill-opacity="0.85"/>
<circle cx="47.76" cy="58.85" r="0.9" fill="#585858" fill-opacity="0.85"/>
<circle cx="44.72" cy="65.57" r="0.9" fill="#585858" fill-opacity="0.85"/>
<circle cx="54.62" cy="70.81" r="0.9" fill="#585858" fill-opacity="0.85"/>
<circle cx="45.44" cy="54.29" r="0.9" fill="#585858" fill-opacity="0.85"/>
<circle cx="57.04" cy="58.92" r="0.9" fill="#585858" fill-opacity="0.85"/>
<circle cx="42.60" cy="51.24" r="0.9" fill="#585858" fill-opacity="0.85"/>
<circle cx="48.48" cy="63.61" r="0.9" fill="#585858" fill-opacity="0.85"/>
<circle cx="57.58" cy="66.29" r="0.9" fill="#585858" fill-opacity="0.85"/>
<circle cx="52.93" cy="59.63" r="0.9" fill="#585858" fill-opacity="0.85"/>
<circle cx="55.44" cy="62.27" r="0.9" fill="#585858" fill-opacity="0.85"/>
<circle cx="54.02" cy="52.28" r="0.9" fill="#585858" fill-opacity="0.85"/>
<circle cx="48.86" cy="53.88" r="0.9" fill="#585858" fill-opacity="0.85"/>
<circle cx="52.86" cy="65.06" r="0.9" fill="#585858" fill-opacity="0.85"/>
<circle cx="61.91" cy="62.49" r="0.9" fill="#585858" fill-opacity="0.85"/>
<circle cx="52.22" cy="55.90" r="0.9" fill="#585858" fill-opacity="0.85"/>
<circle cx="60.41" cy="53.62" r="0.9" fill="#585858" fill-opacity="0.85"/>
<circle cx="51.34" cy="61.51" r="0.9" fill="#585858" fill-opacity="0.85"/>
<circle cx="40.86" cy="67.16" r="0.9" fill="#585858" fill-opacity="0.85"/>
<circle cx="41.78" cy="68.64" r="0.9" fill="#585858" fill-opacity="0.85"/>
<circle cx="52.16" cy="69.20" r="0.9" fill="#585858" fill-opacity="0.85"/>
<circle cx="42.62" cy="70.10" r="0.9" fill="#585858" fill-opacity="0.85"/>
<circle cx="42.47" cy="51.04" r="0.9" fill="#585858" fill-opacity="0.85"/>
<circle cx="51.84" cy="69.90" r="0.9" fill="#585858" fill-opacity="0.85"/>
<circle cx="55.27" cy="61.08" r="0.9" fill="#585858" fill-opacity="0.85"/>
<circle cx="40.18" cy="60.83" r="0.9" fill="#585858" fill-opacity="0.85"/>
<circle cx="45.01" cy="63.81" r="0.9" fill="#585858" fill-opacity="0.85"/>
<circle cx="50.95" cy="59.93" r="0.9" fill="#585858" fill-opacity="0.85"/>
<circle cx="52.84" cy="57.80" r="0.9" fill="#585858" fill-opacity="0.85"/>
<circle cx="57.53" cy="62.73" r="0.9" fill="#585858" fill-opacity="0.85"/>
<circle cx="35.27" cy="53.30" r="0.9" fill="#585858" fill-opacity="0.85"/>
<circle cx="58.00" cy="55.45" r="0.9" fill="#585858" fill-opacity="0.85"/>
<circle cx="62.22" cy="68.25" r="0.9" fill="#585858" fill-opacity="0.85"/>
<circle cx="36.02" cy="70.86" r="0.9" fill="#585858" fill-opacity="0.85"/>
<circle cx="48.90" cy="55.60" r="0.9" fill="#585858" fill-opacity="0.85"/>
<circle cx="44.01" cy="66.18" r="0.9" fill="#585858" fill-opacity="0.85"/>
<circle cx="49.17" cy="50.03" r="0.9" fill="#585858" fill-opacity="0.85"/>
<circle cx="64.12" cy="67.26" r="0.9" fill="#585858" fill-opacity="0.85"/>
<circle cx="33.60" cy="51.73" r="0.9" fill="#585858" fill-opacity="0.85"/>
<circle cx="48.21" cy="52.04" r="0.9" fill="#585858" fill-opacity="0.85"/>
<circle cx="38.53" cy="70.07" r="0.9" fill="#585858" fill-opacity="0.85"/>
<circle cx="52.73" cy="62.32" r="0.9" fill="#585858" fill-opacity="0.85"/>
<circle cx="58.73" cy="66.58" r="0.9" fill="#585858" fill-opacity="0.85"/>
<circle cx="42.87" cy="58.76" r="0.9" fill="#585858" fill-opacity="0.85"/>
<circle cx="56.28" cy="67.35" r="0.9" fill="#585858" fill-opacity="0.85"/>
<circle cx="47.97" cy="54.38" r="0.9" fill="#585858" fill-opacity="0.85"/>
<circle cx="38.00" cy="53.31" r="0.9" fill="#585858" fill-opacity="0.85"/>
<circle cx="46.62" cy="67.47" r="0.9" fill="#585858" fill-opacity="0.85"/>
<circle cx="46.67" cy="51.60" r="0.9" fill="#585858" fill-opacity="0.85"/>
<circle cx="63.39" cy="56.42" r="0.9" fill="#585858" fill-opacity="0.85"/>
<circle cx="34.98" cy="57.55" r="0.9" fill="#585858" fill-opacity="0.85"/>
<circle cx="55.44" cy="64.43" r="0.9" fill="#585858" fill-opacity="0.85"/>
<circle cx="63.18" cy="59.70" r="0.9" fill="#585858" fill-opacity="0.85"/>
<circle cx="60.17" cy="70.31" r="0.9" fill="#585858" fill-opacity="0.85"/>
<circle cx="61.60" cy="50.26" r="0.9" fill="#585858" fill-opacity="0.85"/>
<circle cx="37.14" cy="57.92" r="0.9" fill="#585858" fill-opacity="0.85"/>
<circle cx="48.40" cy="61.85" r="0.9" fill="#585858" fill-opacity="0.85"/>
<circle cx="42.36" cy="59.62" r="0.9" fill="#585858" fill-opacity="0.85"/>
<circle cx="53.64" cy="66.79" r="0.9" fill="#585858" fill-opacity="0.85"/>
<circle cx="56.17" cy="56.10" r="0.9" fill="#585858" fill-opacity="0.85"/>
<circle cx="40.64" cy="56.26" r="0.9" fill="#585858" fill-opacity="0.85"/>
<circle cx="44.42" cy="64.00" r="0.9" fill="#585858" fill-opacity="0.85"/>
<circle cx="64.34" cy="55.39" r="0.9" fill="#585858" fill-opacity="0.85"/>
<circle cx="58.24" cy="56.92" r="0.9" fill="#585858" fill-opacity="0.85"/>
<circle cx="45.38" cy="65.20" r="0.9" fill="#585858" fill-opacity="0.85"/>
<circle cx="40.33" cy="51.94" r="0.9" fill="#585858" fill-opacity="0.85"/>
<circle cx="54.81" cy="64.23" r="0.9" fill="#585858" fill-opacity="0.85"/>
<circle cx="55.76" cy="64.87" r="0.9" fill="#585858" fill-opacity="0.85"/>
<circle cx="57.13" cy="67.58" r="0.9" fill="#585858" fill-opacity="0.85"/>
<circle cx="46.22" cy="54.76" r="0.9" fill="#585858" fill-opacity="0.85"/>
<circle cx="47.71" cy="53.30" r="0.9" fill="#585858" fill-opacity="0.85"/>
<circle cx="62.08" cy="51.53" r="0.9" fill="#585858" fill-opacity="0.85"/>
<circle cx="61.93" cy="69.33" r="0.9" fill="#585858" fill-opacity="0.85"/>
<circle cx="38.90" cy="63.59" r="0.9" fill="#585858" fill-opacity="0.85"/>
<circle cx="58.71" cy="66.10" r="0.9" fill="#585858" fill-opacity="0.85"/>
<circle cx="57.04" cy="56.96" r="0.9" fill="#585858" fill-opacity="0.85"/>
<circle cx="40.60" cy="58.65" r="0.9" fill="#585858" fill-opacity="0.85"/>
<circle cx="52.14" cy="64.70" r="0.9" fill="#585858" fill-opacity="0.85"/>
<circle cx="48.19" cy="63.86" r="0.9" fill="#585858" fill-opacity="0.85"/>
<circle cx="48.82" cy="56.95" r="0.9" fill="#585858" fill-opacity="0.85"/>
<circle cx="49.18" cy="57.19" r="0.9" fill="#585858" fill-opacity="0.85"/>
<circle cx="47.25" cy="57.93" r="0.9" fill="#585858" fill-opacity="0.85"/>
<circle cx="45.96" cy="60.70" r="0.9" fill="#585858" fill-opacity="0.85"/>
<circle cx="57.38" cy="62.84" r="0.9" fill="#585858" fill-opacity="0.85"/>
<circle cx="33.12" cy="53.33" r="0.9" fill="#585858" fill-opacity="0.85"/>
<circle cx="53.94" cy="61.51" r="0.9" fill="#585858" fill-opacity="0.85"/>
<text transform="translate(184.4 9.0)" font-size="10.6" text-anchor="start" font-family="Liberation Sans, sans-serif" fill="#000" stroke="#000" stroke-width="0" font-weight="bold" >B</text>
<rect x="205.6" y="13.6" width="130.00000000000003" height="85.7" fill="none" stroke="#707070" stroke-width="0.8"/>
<line x1="206.5" y1="99.3" x2="206.5" y2="100.5" stroke="#707070" stroke-width="0.6"/>
<text transform="translate(206.5 105.9554) scale(0.92 1)" font-size="6.3" text-anchor="middle" font-family="Liberation Sans, sans-serif" fill="#262626" stroke="#262626" stroke-width="0.22" font-weight="normal" >0</text>
<line x1="220.87777777777777" y1="99.3" x2="220.87777777777777" y2="100.5" stroke="#707070" stroke-width="0.6"/>
<text transform="translate(220.87777777777777 105.9554) scale(0.92 1)" font-size="6.3" text-anchor="middle" font-family="Liberation Sans, sans-serif" fill="#262626" stroke="#262626" stroke-width="0.22" font-weight="normal" >10</text>
<line x1="235.25555555555556" y1="99.3" x2="235.25555555555556" y2="100.5" stroke="#707070" stroke-width="0.6"/>
<text transform="translate(235.25555555555556 105.9554) scale(0.92 1)" font-size="6.3" text-anchor="middle" font-family="Liberation Sans, sans-serif" fill="#262626" stroke="#262626" stroke-width="0.22" font-weight="normal" >20</text>
<line x1="249.63333333333333" y1="99.3" x2="249.63333333333333" y2="100.5" stroke="#707070" stroke-width="0.6"/>
<text transform="translate(249.63333333333333 105.9554) scale(0.92 1)" font-size="6.3" text-anchor="middle" font-family="Liberation Sans, sans-serif" fill="#262626" stroke="#262626" stroke-width="0.22" font-weight="normal" >30</text>
<line x1="264.0111111111111" y1="99.3" x2="264.0111111111111" y2="100.5" stroke="#707070" stroke-width="0.6"/>
<text transform="translate(264.0111111111111 105.9554) scale(0.92 1)" font-size="6.3" text-anchor="middle" font-family="Liberation Sans, sans-serif" fill="#262626" stroke="#262626" stroke-width="0.22" font-weight="normal" >40</text>
<line x1="278.38888888888886" y1="99.3" x2="278.38888888888886" y2="100.5" stroke="#707070" stroke-width="0.6"/>
<text transform="translate(278.38888888888886 105.9554) scale(0.92 1)" font-size="6.3" text-anchor="middle" font-family="Liberation Sans, sans-serif" fill="#262626" stroke="#262626" stroke-width="0.22" font-weight="normal" >50</text>
<line x1="292.76666666666665" y1="99.3" x2="292.76666666666665" y2="100.5" stroke="#707070" stroke-width="0.6"/>
<text transform="translate(292.76666666666665 105.9554) scale(0.92 1)" font-size="6.3" text-anchor="middle" font-family="Liberation Sans, sans-serif" fill="#262626" stroke="#262626" stroke-width="0.22" font-weight="normal" >60</text>
<line x1="307.14444444444445" y1="99.3" x2="307.14444444444445" y2="100.5" stroke="#707070" stroke-width="0.6"/>
<text transform="translate(307.14444444444445 105.9554) scale(0.92 1)" font-size="6.3" text-anchor="middle" font-family="Liberation Sans, sans-serif" fill="#262626" stroke="#262626" stroke-width="0.22" font-weight="normal" >70</text>
<line x1="321.5222222222222" y1="99.3" x2="321.5222222222222" y2="100.5" stroke="#707070" stroke-width="0.6"/>
<text transform="translate(321.5222222222222 105.9554) scale(0.92 1)" font-size="6.3" text-anchor="middle" font-family="Liberation Sans, sans-serif" fill="#262626" stroke="#262626" stroke-width="0.22" font-weight="normal" >80</text>
<line x1="335.9" y1="99.3" x2="335.9" y2="100.5" stroke="#707070" stroke-width="0.6"/>
<text transform="translate(335.9 105.9554) scale(0.92 1)" font-size="6.3" text-anchor="middle" font-family="Liberation Sans, sans-serif" fill="#262626" stroke="#262626" stroke-width="0.22" font-weight="normal" >90</text>
<line x1="204.4" y1="17.3" x2="205.6" y2="17.3" stroke="#707070" stroke-width="0.6"/>
<text transform="translate(203.4 19.5554) scale(0.92 1)" font-size="6.3" text-anchor="end" font-family="Liberation Sans, sans-serif" fill="#262626" stroke="#262626" stroke-width="0.22" font-weight="normal" >1.0</text>
<line x1="204.4" y1="32.76" x2="205.6" y2="32.76" stroke="#707070" stroke-width="0.6"/>
<text transform="translate(203.4 35.0154) scale(0.92 1)" font-size="6.3" text-anchor="end" font-family="Liberation Sans, sans-serif" fill="#262626" stroke="#262626" stroke-width="0.22" font-weight="normal" >0.8</text>
<line x1="204.4" y1="48.22" x2="205.6" y2="48.22" stroke="#707070" stroke-width="0.6"/>
<text transform="translate(203.4 50.4754) scale(0.92 1)" font-size="6.3" text-anchor="end" font-family="Liberation Sans, sans-serif" fill="#262626" stroke="#262626" stroke-width="0.22" font-weight="normal" >0.6</text>
<line x1="204.4" y1="63.67999999999999" x2="205.6" y2="63.67999999999999" stroke="#707070" stroke-width="0.6"/>
<text transform="translate(203.4 65.93539999999999) scale(0.92 1)" font-size="6.3" text-anchor="end" font-family="Liberation Sans, sans-serif" fill="#262626" stroke="#262626" stroke-width="0.22" font-weight="normal" >0.4</text>
<line x1="204.4" y1="79.14" x2="205.6" y2="79.14" stroke="#707070" stroke-width="0.6"/>
<text transform="translate(203.4 81.3954) scale(0.92 1)" font-size="6.3" text-anchor="end" font-family="Liberation Sans, sans-serif" fill="#262626" stroke="#262626" stroke-width="0.22" font-weight="normal" >0.2</text>
<line x1="204.4" y1="94.6" x2="205.6" y2="94.6" stroke="#707070" stroke-width="0.6"/>
<text transform="translate(203.4 96.85539999999999) scale(0.92 1)" font-size="6.3" text-anchor="end" font-family="Liberation Sans, sans-serif" fill="#262626" stroke="#262626" stroke-width="0.22" font-weight="normal" >0.0</text>
<text transform="translate(269.7 113.061844) scale(0.90045 1)" font-size="6.318" text-anchor="middle" font-family="Liberation Sans, sans-serif" fill="#262626" stroke="#262626" stroke-width="0.22" font-weight="normal" >Months</text>
<text transform="translate(189.5 55.6) rotate(-90) scale(0.9222 1)" font-size="6.318" text-anchor="middle" font-family="Liberation Sans, sans-serif" fill="#262626" stroke="#262626" stroke-width="0.22" font-weight="normal" >Proportion Surviving</text>
<polyline points="206.00,17.40 206.96,17.40 206.96,19.48 208.06,19.48 208.06,21.87 208.81,21.87 208.81,23.49 209.60,23.49 209.60,25.20 211.71,25.20 211.71,28.37 213.20,28.37 213.20,30.60 213.40,30.60 213.40,30.90 215.97,30.90 215.97,33.19 217.10,33.19 217.10,34.20 219.98,34.20 219.98,36.53 221.80,36.53 221.80,38.00 223.38,38.00 223.38,39.08 224.74,39.08 224.74,40.00 226.41,40.00 226.41,41.14 226.50,41.14 226.50,41.20 228.95,41.20 228.95,43.13 230.70,43.13 230.70,44.51 231.20,44.51 231.20,44.90 233.26,44.90 233.26,45.93 235.55,45.93 235.55,47.07 236.80,47.07 236.80,47.70 240.38,47.70 240.38,48.91 242.05,48.91 242.05,49.48 242.40,49.48 242.40,49.60 244.94,49.60 244.94,50.63 247.10,50.63 247.10,51.50 249.43,51.50 249.43,53.03 250.30,53.03 250.30,53.60 251.40,53.60 251.40,55.00" fill="none" stroke="#1c1c1c" stroke-width="1.5" stroke-dasharray="1.9 1.1" stroke-linejoin="miter"/>
<polyline points="252.60,57.50 253.20,59.90 268.00,59.90" fill="none" stroke="#1c1c1c" stroke-width="1.2" stroke-dasharray="1.5 0.5" stroke-linejoin="miter"/>
<polyline points="270.00,60.30 271.00,60.30" fill="none" stroke="#1c1c1c" stroke-width="1.2" stroke-linejoin="miter"/>
<polyline points="273.00,61.70 287.60,61.70 287.80,65.80" fill="none" stroke="#1c1c1c" stroke-width="1.2" stroke-dasharray="4 2.8 2.2 1.2 3.2 30" stroke-linejoin="miter"/>
<polyline points="288.00,65.80 330.00,65.80" fill="none" stroke="#1c1c1c" stroke-width="1.25" stroke-dasharray="1.7 2.2" stroke-linejoin="miter"/>
<polyline points="206.00,17.40 206.61,17.40 206.61,20.04 207.15,20.04 207.15,22.38 207.61,22.38 207.61,24.37 207.89,24.37 207.89,25.57 208.44,25.57 208.44,27.93 208.78,27.93 208.78,29.40 208.80,29.40 208.80,29.50 209.35,29.50 209.35,30.82 210.13,30.82 210.13,32.66 211.07,32.66 211.07,34.90 211.59,34.90 211.59,36.13 211.70,36.13 211.70,36.40 212.21,36.40 212.21,37.43 212.69,37.43 212.69,38.39 213.29,38.39 213.29,39.58 214.49,39.58 214.49,41.99 214.60,41.99 214.60,42.20 215.57,42.20 215.57,44.11 216.27,44.11 216.27,45.48 217.25,45.48 217.25,47.41 217.60,47.41 217.60,48.10 218.60,48.10 218.60,49.44 219.80,49.44 219.80,51.07 220.50,51.07 220.50,52.00 221.13,52.00 221.13,52.84 221.94,52.84 221.94,53.93 223.02,53.93 223.02,55.39 223.40,55.39 223.40,55.90 223.95,55.90 223.95,57.49 224.59,57.49 224.59,59.36 225.02,59.36 225.02,60.61 225.40,60.61 225.40,61.70 226.44,61.70 226.44,62.74 227.84,62.74 227.84,64.14 228.96,64.14 228.96,65.26 229.30,65.26 229.30,65.60 230.15,65.60 230.15,66.28 231.84,66.28 231.84,67.62 232.83,67.62 232.83,68.41 234.20,68.41 234.20,69.50 235.93,69.50 235.93,70.58 237.47,70.58 237.47,71.55 238.93,71.55 238.93,72.46 239.00,72.46 239.00,72.50 240.96,72.50 240.96,73.48 243.03,73.48 243.03,74.51 244.00,74.51 244.00,75.00 245.70,75.00 245.70,75.71 248.21,75.71 248.21,76.75 248.80,76.75 248.80,77.00 251.11,77.00 251.11,77.89 252.71,77.89 252.71,78.51 253.70,78.51 253.70,78.90 255.65,78.90 255.65,79.26 258.17,79.26 258.17,79.72 258.60,79.72 258.60,79.80 260.51,79.80 260.51,79.82 262.27,79.82 262.27,79.83 264.82,79.83 264.82,79.85 266.39,79.85 266.39,79.87 267.50,79.87 267.50,79.88 269.76,79.88 269.76,79.90 270.00,79.90 270.00,79.90 281.60,79.90 282.20,79.90 282.20,82.00 303.00,82.00 303.81,82.00 303.81,83.87 304.00,83.87 304.00,84.30 304.19,84.30 304.19,85.83 304.45,85.83 304.45,87.84 304.59,87.84 304.59,88.97 304.75,88.97 304.75,90.19 304.80,90.19 304.80,90.60 332.00,90.60" fill="none" stroke="#1c1c1c" stroke-width="1.35" stroke-linejoin="miter"/>
<text transform="translate(248.9 23.194999999999997)" font-size="4.5" text-anchor="middle" font-family="Liberation Serif, sans-serif" fill="#303030" stroke="#303030" stroke-width="0.2" font-weight="normal" >Category</text>
<text transform="translate(267.7 23.194999999999997)" font-size="4.5" text-anchor="middle" font-family="Liberation Serif, sans-serif" fill="#303030" stroke="#303030" stroke-width="0.2" font-weight="normal" >N</text>
<text transform="translate(284.6 23.194999999999997)" font-size="4.5" text-anchor="middle" font-family="Liberation Serif, sans-serif" fill="#303030" stroke="#303030" stroke-width="0.2" font-weight="normal" >Median</text>
<text transform="translate(307.8 23.194999999999997)" font-size="4.5" text-anchor="middle" font-family="Liberation Serif, sans-serif" fill="#303030" stroke="#303030" stroke-width="0.2" font-weight="normal" >95% CI</text>
<text transform="translate(247.9 28.694999999999997)" font-size="4.5" text-anchor="middle" font-family="Liberation Serif, sans-serif" fill="#303030" stroke="#303030" stroke-width="0.2" font-weight="normal" >≤2</text>
<text transform="translate(268.2 28.694999999999997)" font-size="4.5" text-anchor="middle" font-family="Liberation Serif, sans-serif" fill="#303030" stroke="#303030" stroke-width="0.2" font-weight="normal" >138</text>
<text transform="translate(284.9 28.694999999999997)" font-size="4.5" text-anchor="middle" font-family="Liberation Serif, sans-serif" fill="#303030" stroke="#303030" stroke-width="0.2" font-weight="normal" >31.7</text>
<text transform="translate(307 28.694999999999997)" font-size="4.5" text-anchor="middle" font-family="Liberation Serif, sans-serif" fill="#303030" stroke="#303030" stroke-width="0.2" font-weight="normal" >(22.7, NR)</text>
<text transform="translate(247.9 34.295)" font-size="4.5" text-anchor="middle" font-family="Liberation Serif, sans-serif" fill="#303030" stroke="#303030" stroke-width="0.2" font-weight="normal" >&gt;2</text>
<text transform="translate(268.2 34.295)" font-size="4.5" text-anchor="middle" font-family="Liberation Serif, sans-serif" fill="#303030" stroke="#303030" stroke-width="0.2" font-weight="normal" >395</text>
<text transform="translate(284.9 34.295)" font-size="4.5" text-anchor="middle" font-family="Liberation Serif, sans-serif" fill="#303030" stroke="#303030" stroke-width="0.2" font-weight="normal" >12.6</text>
<text transform="translate(308.3 34.295)" font-size="4.5" text-anchor="middle" font-family="Liberation Serif, sans-serif" fill="#303030" stroke="#303030" stroke-width="0.2" font-weight="normal" >(10.7, 13.6)</text>
<line x1="232" y1="26.9" x2="238.7" y2="26.9" stroke="#333" stroke-width="1.1" stroke-dasharray="2.2 2.2"/>
<line x1="232" y1="32.5" x2="238.7" y2="32.5" stroke="#333" stroke-width="1.1"/>
<text transform="translate(223.3 94.05)" font-size="4.1" text-anchor="start" font-family="Liberation Sans, sans-serif" fill="#333" stroke="#333" stroke-width="0.18" font-weight="normal" ><tspan font-style="italic">P</tspan> &lt; 0.0001</text>
<text transform="translate(357.3 9.0)" font-size="10.6" text-anchor="start" font-family="Liberation Sans, sans-serif" fill="#000" stroke="#000" stroke-width="0" font-weight="bold" >C</text>
<rect x="376.4" y="12.5" width="140.30000000000007" height="91.8" fill="none" stroke="#8a8a8a" stroke-width="0.8"/>
<line x1="376.4" y1="104.3" x2="376.4" y2="105.5" stroke="#8a8a8a" stroke-width="0.6"/>
<text transform="translate(376.4 112.7554)" font-size="6.3" text-anchor="middle" font-family="Liberation Sans, sans-serif" fill="#262626" stroke="#262626" stroke-width="0.22" font-weight="normal" >0</text>
<line x1="391.9444444444444" y1="104.3" x2="391.9444444444444" y2="105.5" stroke="#8a8a8a" stroke-width="0.6"/>
<text transform="translate(391.9444444444444 112.7554)" font-size="6.3" text-anchor="middle" font-family="Liberation Sans, sans-serif" fill="#262626" stroke="#262626" stroke-width="0.22" font-weight="normal" >10</text>
<line x1="407.4888888888889" y1="104.3" x2="407.4888888888889" y2="105.5" stroke="#8a8a8a" stroke-width="0.6"/>
<text transform="translate(407.4888888888889 112.7554)" font-size="6.3" text-anchor="middle" font-family="Liberation Sans, sans-serif" fill="#262626" stroke="#262626" stroke-width="0.22" font-weight="normal" >20</text>
<line x1="423.0333333333333" y1="104.3" x2="423.0333333333333" y2="105.5" stroke="#8a8a8a" stroke-width="0.6"/>
<text transform="translate(423.0333333333333 112.7554)" font-size="6.3" text-anchor="middle" font-family="Liberation Sans, sans-serif" fill="#262626" stroke="#262626" stroke-width="0.22" font-weight="normal" >30</text>
<line x1="438.5777777777777" y1="104.3" x2="438.5777777777777" y2="105.5" stroke="#8a8a8a" stroke-width="0.6"/>
<text transform="translate(438.5777777777777 112.7554)" font-size="6.3" text-anchor="middle" font-family="Liberation Sans, sans-serif" fill="#262626" stroke="#262626" stroke-width="0.22" font-weight="normal" >40</text>
<line x1="454.1222222222222" y1="104.3" x2="454.1222222222222" y2="105.5" stroke="#8a8a8a" stroke-width="0.6"/>
<text transform="translate(454.1222222222222 112.7554)" font-size="6.3" text-anchor="middle" font-family="Liberation Sans, sans-serif" fill="#262626" stroke="#262626" stroke-width="0.22" font-weight="normal" >50</text>
<line x1="469.66666666666663" y1="104.3" x2="469.66666666666663" y2="105.5" stroke="#8a8a8a" stroke-width="0.6"/>
<text transform="translate(469.66666666666663 112.7554)" font-size="6.3" text-anchor="middle" font-family="Liberation Sans, sans-serif" fill="#262626" stroke="#262626" stroke-width="0.22" font-weight="normal" >60</text>
<line x1="485.21111111111105" y1="104.3" x2="485.21111111111105" y2="105.5" stroke="#8a8a8a" stroke-width="0.6"/>
<text transform="translate(485.21111111111105 112.7554)" font-size="6.3" text-anchor="middle" font-family="Liberation Sans, sans-serif" fill="#262626" stroke="#262626" stroke-width="0.22" font-weight="normal" >70</text>
<line x1="500.75555555555553" y1="104.3" x2="500.75555555555553" y2="105.5" stroke="#8a8a8a" stroke-width="0.6"/>
<text transform="translate(500.75555555555553 112.7554)" font-size="6.3" text-anchor="middle" font-family="Liberation Sans, sans-serif" fill="#262626" stroke="#262626" stroke-width="0.22" font-weight="normal" >80</text>
<line x1="516.3" y1="104.3" x2="516.3" y2="105.5" stroke="#8a8a8a" stroke-width="0.6"/>
<text transform="translate(516.3 112.7554)" font-size="6.3" text-anchor="middle" font-family="Liberation Sans, sans-serif" fill="#262626" stroke="#262626" stroke-width="0.22" font-weight="normal" >90</text>
<line x1="375.2" y1="17.0" x2="376.4" y2="17.0" stroke="#8a8a8a" stroke-width="0.6"/>
<text transform="translate(374.3 19.2554)" font-size="6.3" text-anchor="end" font-family="Liberation Sans, sans-serif" fill="#262626" stroke="#262626" stroke-width="0.22" font-weight="normal" >1.0</text>
<line x1="375.2" y1="33.64" x2="376.4" y2="33.64" stroke="#8a8a8a" stroke-width="0.6"/>
<text transform="translate(374.3 35.8954)" font-size="6.3" text-anchor="end" font-family="Liberation Sans, sans-serif" fill="#262626" stroke="#262626" stroke-width="0.22" font-weight="normal" >0.8</text>
<line x1="375.2" y1="50.28" x2="376.4" y2="50.28" stroke="#8a8a8a" stroke-width="0.6"/>
<text transform="translate(374.3 52.5354)" font-size="6.3" text-anchor="end" font-family="Liberation Sans, sans-serif" fill="#262626" stroke="#262626" stroke-width="0.22" font-weight="normal" >0.6</text>
<line x1="375.2" y1="66.92" x2="376.4" y2="66.92" stroke="#8a8a8a" stroke-width="0.6"/>
<text transform="translate(374.3 69.1754)" font-size="6.3" text-anchor="end" font-family="Liberation Sans, sans-serif" fill="#262626" stroke="#262626" stroke-width="0.22" font-weight="normal" >0.4</text>
<line x1="375.2" y1="83.56" x2="376.4" y2="83.56" stroke="#8a8a8a" stroke-width="0.6"/>
<text transform="translate(374.3 85.8154)" font-size="6.3" text-anchor="end" font-family="Liberation Sans, sans-serif" fill="#262626" stroke="#262626" stroke-width="0.22" font-weight="normal" >0.2</text>
<line x1="375.2" y1="100.2" x2="376.4" y2="100.2" stroke="#8a8a8a" stroke-width="0.6"/>
<text transform="translate(374.3 102.4554)" font-size="6.3" text-anchor="end" font-family="Liberation Sans, sans-serif" fill="#262626" stroke="#262626" stroke-width="0.22" font-weight="normal" >0.0</text>
<text transform="translate(446.5 120.358504) scale(0.90045 1)" font-size="6.588" text-anchor="middle" font-family="Liberation Sans, sans-serif" fill="#262626" stroke="#262626" stroke-width="0.22" font-weight="normal" >Months</text>
<text transform="translate(361.8 59.3) rotate(-90) scale(0.9222 1)" font-size="6.588" text-anchor="middle" font-family="Liberation Sans, sans-serif" fill="#262626" stroke="#262626" stroke-width="0.22" font-weight="normal" >Proportion Surviving</text>
<polyline points="376.30,16.80 377.97,16.80 377.97,19.13 379.47,19.13 379.47,21.24 379.80,21.24 379.80,21.70 382.50,21.70 382.50,23.71 383.70,23.71 383.70,24.60 385.43,24.60 385.43,25.93 387.30,25.93 387.30,27.37 387.60,27.37 387.60,27.60 389.14,27.60 389.14,29.14 390.37,29.14 390.37,30.37 391.50,30.37 391.50,31.50 393.63,31.50 393.63,34.97 394.50,34.97 394.50,36.40 397.20,36.40 397.20,39.10 398.40,39.10 398.40,40.30 400.58,40.30 400.58,43.23 401.30,43.23 401.30,44.20 417.90,44.20 418.90,44.20 418.90,47.10 424.70,47.10 425.34,47.10 425.34,50.06 425.70,50.06 425.70,51.70 448.00,51.70 448.00,59.50 458.00,59.50 458.00,70.00 495.50,70.00" fill="none" stroke="#3c3c3c" stroke-width="0.85" stroke-linejoin="miter"/>
<polyline points="376.30,16.80 377.11,16.80 377.11,18.10 378.74,18.10 378.74,20.70 379.58,20.70 379.58,22.05 380.91,22.05 380.91,24.17 381.80,24.17 381.80,25.60 382.49,25.60 382.49,26.73 383.47,26.73 383.47,28.31 384.50,28.31 384.50,29.99 385.57,29.99 385.57,31.72 386.33,31.72 386.33,32.97 386.60,32.97 386.60,33.40 388.23,33.40 388.23,36.06 389.37,36.06 389.37,37.93 389.60,37.93 389.60,38.30 391.64,38.30 391.64,39.92 392.75,39.92 392.75,40.81 393.84,40.81 393.84,41.67 394.50,41.67 394.50,42.20 395.76,42.20 395.76,43.75 397.29,43.75 397.29,45.62 399.30,45.62 399.30,48.10 401.54,48.10 401.54,50.75 403.06,50.75 403.06,52.55 404.20,52.55 404.20,53.90 405.35,53.90 405.35,55.50 407.31,55.50 407.31,58.22 409.10,58.22 409.10,60.70 410.59,60.70 410.59,61.61 413.29,61.61 413.29,63.27 414.00,63.27 414.00,63.70 416.12,63.70 416.12,64.74 417.64,64.74 417.64,65.49 419.90,65.49 419.90,66.60 423.02,66.60 423.02,68.20 423.80,68.20 423.80,68.60 424.80,68.60 424.80,71.12 425.44,71.12 425.44,72.74 425.70,72.74 425.70,73.40 427.12,73.40 427.12,73.55 428.67,73.55 428.67,73.70 430.60,73.70 430.60,73.90" fill="none" stroke="#1c1c1c" stroke-width="1.15" stroke-linejoin="miter"/>
<polyline points="430.60,73.90 483.00,73.90 483.00,83.10 509.50,83.10" fill="none" stroke="#333" stroke-width="0.85" stroke-linejoin="miter"/>
<polyline points="430.60,73.90 483.00,73.90 483.00,83.10 509.50,83.10" fill="none" stroke="#222" stroke-width="1.5" stroke-dasharray="0.9 4.6" stroke-linejoin="miter"/>
<polyline points="376.30,16.80 377.00,16.80 377.00,18.78 378.14,18.78 378.14,22.04 379.26,22.04 379.26,25.22 380.10,25.22 380.10,27.60 380.74,27.60 380.74,29.16 381.88,29.16 381.88,31.92 383.23,31.92 383.23,35.19 384.10,35.19 384.10,37.30 384.63,37.30 384.63,38.77 385.27,38.77 385.27,40.55 385.98,40.55 385.98,42.51 387.01,42.51 387.01,45.35 387.63,45.35 387.63,47.07 388.00,47.07 388.00,48.10 389.05,48.10 389.05,49.71 390.65,49.71 390.65,52.14 391.80,52.14 391.80,53.90 393.05,53.90 393.05,55.75 394.68,55.75 394.68,58.16 396.40,58.16 396.40,60.70 398.10,60.70 398.10,62.84 399.29,62.84 399.29,64.33 400.30,64.33 400.30,65.60 403.05,65.60 403.05,67.79 405.20,67.79 405.20,69.50 407.00,69.50 407.00,70.41 409.54,70.41 409.54,71.71 410.95,71.71 410.95,72.43 411.10,72.43 411.10,72.50 413.48,72.50 413.48,72.77 416.06,72.77 416.06,73.07 418.64,73.07 418.64,73.37 418.90,73.37 418.90,73.40 421.09,73.40 421.09,75.08 422.70,75.08 422.70,76.32 422.80,76.32 422.80,76.40 425.30,76.40 425.30,78.45 426.52,78.45 426.52,79.45 426.70,79.45 426.70,79.60" fill="none" stroke="#1c1c1c" stroke-width="1.1" stroke-linejoin="miter"/>
<polyline points="426.70,79.60 463.75,79.60 463.75,86.30 481.25,86.30 481.25,93.20 505.00,93.20" fill="none" stroke="#1c1c1c" stroke-width="1.0" stroke-dasharray="1.6 1" stroke-linejoin="miter"/>
<polyline points="376.30,16.80 376.95,16.80 376.95,19.85 377.35,19.85 377.35,21.75 377.78,21.75 377.78,23.73 378.33,23.73 378.33,26.31 378.60,26.31 378.60,27.60 379.66,27.60 379.66,30.87 380.79,30.87 380.79,34.35 381.24,34.35 381.24,35.73 382.00,35.73 382.00,38.06 382.40,38.06 382.40,39.30 383.16,39.30 383.16,41.43 384.34,41.43 384.34,44.75 385.18,44.75 385.18,47.13 385.78,47.13 385.78,48.82 386.20,48.82 386.20,50.00 388.04,50.00 388.04,52.20 389.45,52.20 389.45,53.89 390.30,53.89 390.30,54.90 391.84,54.90 391.84,57.69 393.08,57.69 393.08,59.93 393.50,59.93 393.50,60.70 394.97,60.70 394.97,63.68 396.27,63.68 396.27,66.33 396.40,66.33 396.40,66.60 398.92,66.60 398.92,69.12 400.18,69.12 400.18,70.38 401.30,70.38 401.30,71.50 402.81,71.50 402.81,72.40 405.21,72.40 405.21,73.81 406.20,73.81 406.20,74.40 408.07,74.40 408.07,75.89 410.54,75.89 410.54,77.86 411.10,77.86 411.10,78.30 413.94,78.30 413.94,79.77 415.65,79.77 415.65,80.65 416.90,80.65 416.90,81.30 418.72,81.30 418.72,81.80 421.34,81.80 421.34,82.52 423.77,82.52 423.77,83.19 423.80,83.19 423.80,83.20 426.40,83.20 426.40,84.12 429.25,84.12 429.25,85.12 430.60,85.12 430.60,85.60 432.50,85.60 432.50,86.50 512.00,86.50" fill="none" stroke="#1c1c1c" stroke-width="1.15" stroke-linejoin="miter"/>
<text transform="translate(458.3 23.700499999999998)" font-size="3.55" text-anchor="middle" font-family="Liberation Serif, sans-serif" fill="#303030" stroke="#303030" stroke-width="0.2" font-weight="normal" >Category</text>
<text transform="translate(472.4 23.700499999999998)" font-size="3.55" text-anchor="middle" font-family="Liberation Serif, sans-serif" fill="#303030" stroke="#303030" stroke-width="0.2" font-weight="normal" >N</text>
<text transform="translate(484.5 23.700499999999998)" font-size="3.55" text-anchor="middle" font-family="Liberation Serif, sans-serif" fill="#303030" stroke="#303030" stroke-width="0.2" font-weight="normal" >Median</text>
<text transform="translate(501.5 23.700499999999998)" font-size="3.55" text-anchor="middle" font-family="Liberation Serif, sans-serif" fill="#303030" stroke="#303030" stroke-width="0.2" font-weight="normal" >95% CI</text>
<text transform="translate(458.2 28.400499999999997)" font-size="3.55" text-anchor="middle" font-family="Liberation Serif, sans-serif" fill="#303030" stroke="#303030" stroke-width="0.2" font-weight="normal" >Low</text>
<text transform="translate(472.4 28.400499999999997)" font-size="3.55" text-anchor="middle" font-family="Liberation Serif, sans-serif" fill="#303030" stroke="#303030" stroke-width="0.2" font-weight="normal" >81</text>
<text transform="translate(486.2 28.400499999999997)" font-size="3.55" text-anchor="middle" font-family="Liberation Serif, sans-serif" fill="#303030" stroke="#303030" stroke-width="0.2" font-weight="normal" >46.0</text>
<text transform="translate(503 28.400499999999997)" font-size="3.55" text-anchor="middle" font-family="Liberation Serif, sans-serif" fill="#303030" stroke="#303030" stroke-width="0.2" font-weight="normal" >(37.5, NA)</text>
<text transform="translate(458.2 32.8005)" font-size="3.55" text-anchor="middle" font-family="Liberation Serif, sans-serif" fill="#303030" stroke="#303030" stroke-width="0.2" font-weight="normal" >Int-1</text>
<text transform="translate(472.4 32.8005)" font-size="3.55" text-anchor="middle" font-family="Liberation Serif, sans-serif" fill="#303030" stroke="#303030" stroke-width="0.2" font-weight="normal" >163</text>
<text transform="translate(486.2 32.8005)" font-size="3.55" text-anchor="middle" font-family="Liberation Serif, sans-serif" fill="#303030" stroke="#303030" stroke-width="0.2" font-weight="normal" >20.4</text>
<text transform="translate(503 32.8005)" font-size="3.55" text-anchor="middle" font-family="Liberation Serif, sans-serif" fill="#303030" stroke="#303030" stroke-width="0.2" font-weight="normal" >(14.1, 29.9)</text>
<text transform="translate(458.2 37.30049999999999)" font-size="3.55" text-anchor="middle" font-family="Liberation Serif, sans-serif" fill="#303030" stroke="#303030" stroke-width="0.2" font-weight="normal" >Int-2</text>
<text transform="translate(472.4 37.30049999999999)" font-size="3.55" text-anchor="middle" font-family="Liberation Serif, sans-serif" fill="#303030" stroke="#303030" stroke-width="0.2" font-weight="normal" >166</text>
<text transform="translate(486.2 37.30049999999999)" font-size="3.55" text-anchor="middle" font-family="Liberation Serif, sans-serif" fill="#303030" stroke="#303030" stroke-width="0.2" font-weight="normal" >12.7</text>
<text transform="translate(503 37.30049999999999)" font-size="3.55" text-anchor="middle" font-family="Liberation Serif, sans-serif" fill="#303030" stroke="#303030" stroke-width="0.2" font-weight="normal" >(9.3, 17.4)</text>
<text transform="translate(458.2 41.7005)" font-size="3.55" text-anchor="middle" font-family="Liberation Serif, sans-serif" fill="#303030" stroke="#303030" stroke-width="0.2" font-weight="normal" >High</text>
<text transform="translate(472.4 41.7005)" font-size="3.55" text-anchor="middle" font-family="Liberation Serif, sans-serif" fill="#303030" stroke="#303030" stroke-width="0.2" font-weight="normal" >142</text>
<text transform="translate(486.2 41.7005)" font-size="3.55" text-anchor="middle" font-family="Liberation Serif, sans-serif" fill="#303030" stroke="#303030" stroke-width="0.2" font-weight="normal" >11.0</text>
<text transform="translate(503 41.7005)" font-size="3.55" text-anchor="middle" font-family="Liberation Serif, sans-serif" fill="#303030" stroke="#303030" stroke-width="0.2" font-weight="normal" >(8.5, 13.0)</text>
<line x1="441.9" y1="27.7" x2="450.6" y2="27.7" stroke="#aaa" stroke-width="0.9"/>
<line x1="441.9" y1="31.6" x2="450.6" y2="31.6" stroke="#333" stroke-width="0.9" stroke-dasharray="2.6 0.9 1 0.9"/>
<line x1="441.9" y1="35.5" x2="450.6" y2="35.5" stroke="#333" stroke-width="0.9" stroke-dasharray="1.5 0.9"/>
<line x1="441.9" y1="39.1" x2="450.6" y2="39.1" stroke="#333" stroke-width="1.1"/>
<text transform="translate(484.1 50.6718)" font-size="3.78" text-anchor="middle" font-family="Liberation Serif, sans-serif" fill="#303030" stroke="#303030" stroke-width="0.2" font-weight="normal" >Logrank Chi-square = 29.8</text>
<text transform="translate(491.3 55.016)" font-size="3.6" text-anchor="middle" font-family="Liberation Serif, sans-serif" fill="#303030" stroke="#303030" stroke-width="0.2" font-weight="normal" ><tspan font-style="italic">P</tspan>&lt; 0.0003</text>
<text transform="translate(0.4 140.7)" font-size="10.6" text-anchor="start" font-family="Liberation Sans, sans-serif" fill="#000" stroke="#000" stroke-width="0" font-weight="bold" >D</text>
<rect x="18.9" y="146.7" width="140.6" height="91.70000000000002" fill="none" stroke="#9a9a9a" stroke-width="0.8"/>
<line x1="19.0" y1="238.4" x2="19.0" y2="239.6" stroke="#9a9a9a" stroke-width="0.6"/>
<text transform="translate(19.0 248.05540000000002)" font-size="6.3" text-anchor="middle" font-family="Liberation Sans, sans-serif" fill="#262626" stroke="#262626" stroke-width="0.22" font-weight="normal" >0</text>
<line x1="34.58888888888889" y1="238.4" x2="34.58888888888889" y2="239.6" stroke="#9a9a9a" stroke-width="0.6"/>
<text transform="translate(34.58888888888889 248.05540000000002)" font-size="6.3" text-anchor="middle" font-family="Liberation Sans, sans-serif" fill="#262626" stroke="#262626" stroke-width="0.22" font-weight="normal" >10</text>
<line x1="50.17777777777778" y1="238.4" x2="50.17777777777778" y2="239.6" stroke="#9a9a9a" stroke-width="0.6"/>
<text transform="translate(50.17777777777778 248.05540000000002)" font-size="6.3" text-anchor="middle" font-family="Liberation Sans, sans-serif" fill="#262626" stroke="#262626" stroke-width="0.22" font-weight="normal" >20</text>
<line x1="65.76666666666668" y1="238.4" x2="65.76666666666668" y2="239.6" stroke="#9a9a9a" stroke-width="0.6"/>
<text transform="translate(65.76666666666668 248.05540000000002)" font-size="6.3" text-anchor="middle" font-family="Liberation Sans, sans-serif" fill="#262626" stroke="#262626" stroke-width="0.22" font-weight="normal" >30</text>
<line x1="81.35555555555555" y1="238.4" x2="81.35555555555555" y2="239.6" stroke="#9a9a9a" stroke-width="0.6"/>
<text transform="translate(81.35555555555555 248.05540000000002)" font-size="6.3" text-anchor="middle" font-family="Liberation Sans, sans-serif" fill="#262626" stroke="#262626" stroke-width="0.22" font-weight="normal" >40</text>
<line x1="96.94444444444444" y1="238.4" x2="96.94444444444444" y2="239.6" stroke="#9a9a9a" stroke-width="0.6"/>
<text transform="translate(96.94444444444444 248.05540000000002)" font-size="6.3" text-anchor="middle" font-family="Liberation Sans, sans-serif" fill="#262626" stroke="#262626" stroke-width="0.22" font-weight="normal" >50</text>
<line x1="112.53333333333335" y1="238.4" x2="112.53333333333335" y2="239.6" stroke="#9a9a9a" stroke-width="0.6"/>
<text transform="translate(112.53333333333335 248.05540000000002)" font-size="6.3" text-anchor="middle" font-family="Liberation Sans, sans-serif" fill="#262626" stroke="#262626" stroke-width="0.22" font-weight="normal" >60</text>
<line x1="128.12222222222223" y1="238.4" x2="128.12222222222223" y2="239.6" stroke="#9a9a9a" stroke-width="0.6"/>
<text transform="translate(128.12222222222223 248.05540000000002)" font-size="6.3" text-anchor="middle" font-family="Liberation Sans, sans-serif" fill="#262626" stroke="#262626" stroke-width="0.22" font-weight="normal" >70</text>
<line x1="143.7111111111111" y1="238.4" x2="143.7111111111111" y2="239.6" stroke="#9a9a9a" stroke-width="0.6"/>
<text transform="translate(143.7111111111111 248.05540000000002)" font-size="6.3" text-anchor="middle" font-family="Liberation Sans, sans-serif" fill="#262626" stroke="#262626" stroke-width="0.22" font-weight="normal" >80</text>
<line x1="159.3" y1="238.4" x2="159.3" y2="239.6" stroke="#9a9a9a" stroke-width="0.6"/>
<text transform="translate(159.3 248.05540000000002)" font-size="6.3" text-anchor="middle" font-family="Liberation Sans, sans-serif" fill="#262626" stroke="#262626" stroke-width="0.22" font-weight="normal" >90</text>
<line x1="17.7" y1="150.8" x2="18.9" y2="150.8" stroke="#9a9a9a" stroke-width="0.6"/>
<text transform="translate(17.1 153.05540000000002)" font-size="6.3" text-anchor="end" font-family="Liberation Sans, sans-serif" fill="#262626" stroke="#262626" stroke-width="0.22" font-weight="normal" >1.0</text>
<line x1="17.7" y1="167.74" x2="18.9" y2="167.74" stroke="#9a9a9a" stroke-width="0.6"/>
<text transform="translate(17.1 169.99540000000002)" font-size="6.3" text-anchor="end" font-family="Liberation Sans, sans-serif" fill="#262626" stroke="#262626" stroke-width="0.22" font-weight="normal" >0.8</text>
<line x1="17.7" y1="184.68" x2="18.9" y2="184.68" stroke="#9a9a9a" stroke-width="0.6"/>
<text transform="translate(17.1 186.93540000000002)" font-size="6.3" text-anchor="end" font-family="Liberation Sans, sans-serif" fill="#262626" stroke="#262626" stroke-width="0.22" font-weight="normal" >0.6</text>
<line x1="17.7" y1="201.62" x2="18.9" y2="201.62" stroke="#9a9a9a" stroke-width="0.6"/>
<text transform="translate(17.1 203.8754)" font-size="6.3" text-anchor="end" font-family="Liberation Sans, sans-serif" fill="#262626" stroke="#262626" stroke-width="0.22" font-weight="normal" >0.4</text>
<line x1="17.7" y1="218.56" x2="18.9" y2="218.56" stroke="#9a9a9a" stroke-width="0.6"/>
<text transform="translate(17.1 220.8154)" font-size="6.3" text-anchor="end" font-family="Liberation Sans, sans-serif" fill="#262626" stroke="#262626" stroke-width="0.22" font-weight="normal" >0.2</text>
<line x1="17.7" y1="235.5" x2="18.9" y2="235.5" stroke="#9a9a9a" stroke-width="0.6"/>
<text transform="translate(17.1 237.7554)" font-size="6.3" text-anchor="end" font-family="Liberation Sans, sans-serif" fill="#262626" stroke="#262626" stroke-width="0.22" font-weight="normal" >0.0</text>
<text transform="translate(87.7 255.0165) scale(0.90045 1)" font-size="6.75" text-anchor="middle" font-family="Liberation Sans, sans-serif" fill="#262626" stroke="#262626" stroke-width="0.22" font-weight="normal" >Months</text>
<text transform="translate(5.6 197.2) rotate(-90) scale(0.9222 1)" font-size="6.75" text-anchor="middle" font-family="Liberation Sans, sans-serif" fill="#262626" stroke="#262626" stroke-width="0.22" font-weight="normal" >Proportion Surviving</text>
<polyline points="19.50,150.80 20.91,150.80 20.91,152.26 22.27,152.26 22.27,153.66 23.39,153.66 23.39,154.81 25.37,154.81 25.37,156.86 25.80,156.86 25.80,157.30 27.90,157.30 27.90,159.01 29.64,159.01 29.64,160.42 30.60,160.42 30.60,161.20 31.86,161.20 31.86,162.41 34.69,162.41 34.69,165.12 35.50,165.12 35.50,165.90 37.92,165.90 37.92,167.63 40.40,167.63 40.40,169.40 41.76,169.40 41.76,171.10 42.97,171.10 42.97,172.62 44.30,172.62 44.30,174.30 45.39,174.30 45.39,175.56 46.95,175.56 46.95,177.36 48.20,177.36 48.20,178.80 51.02,178.80 51.02,179.59 53.18,179.59 53.18,180.19 55.00,180.19 55.00,180.70 56.61,180.70 56.61,181.47 59.95,181.47 59.95,183.07 61.76,183.07 61.76,183.93 61.90,183.93 61.90,184.00 63.73,184.00 63.73,184.75 66.80,184.75 66.80,186.00 67.89,186.00 67.89,189.56 68.30,189.56 68.30,190.90" fill="none" stroke="#1c1c1c" stroke-width="1.2" stroke-linejoin="miter"/>
<polyline points="68.30,190.90 90.00,190.90 90.00,193.75 100.00,193.75 101.00,197.00 105.50,197.00 106.25,202.00" fill="none" stroke="#2a2a2a" stroke-width="1.0" stroke-linejoin="miter"/>
<polyline points="68.30,190.90 90.00,190.90 90.00,193.75 100.00,193.75 101.00,197.00 105.50,197.00 106.25,202.00" fill="none" stroke="#222" stroke-width="1.6" stroke-dasharray="0.9 3.6" stroke-linejoin="miter"/>
<polyline points="106.25,202.00 151.75,202.00" fill="none" stroke="#505050" stroke-width="0.85" stroke-linejoin="miter"/>
<polyline points="106.25,202.00 151.75,202.00" fill="none" stroke="#2a2a2a" stroke-width="1.6" stroke-dasharray="1.0 4.2" stroke-linejoin="miter"/>
<polyline points="19.50,150.80 19.92,150.80 19.92,152.05 20.57,152.05 20.57,153.97 21.18,153.97 21.18,155.80 21.70,155.80 21.70,157.34 22.71,157.34 22.71,160.32 22.80,160.32 22.80,160.60 23.77,160.60 23.77,162.55 24.99,162.55 24.99,164.98 26.41,164.98 26.41,167.82 26.70,167.82 26.70,168.40 27.74,168.40 27.74,170.23 29.08,170.23 29.08,172.57 29.71,172.57 29.71,173.68 30.54,173.68 30.54,175.14 30.60,175.14 30.60,175.25 31.46,175.25 31.46,176.46 32.62,176.46 32.62,178.07 33.66,178.07 33.66,179.53 34.86,179.53 34.86,181.20 35.50,181.20 35.50,182.10 36.21,182.10 36.21,183.15 37.99,183.15 37.99,185.80 39.40,185.80 39.40,187.90 41.24,187.90 41.24,189.83 41.40,189.83 41.40,190.00 42.34,190.00 42.34,191.42 43.61,191.42 43.61,193.35 44.54,193.35 44.54,194.75 45.30,194.75 45.30,195.90 47.49,195.90 47.49,198.04 48.87,198.04 48.87,199.39 50.20,199.39 50.20,200.70 52.51,200.70 52.51,202.86 54.27,202.86 54.27,204.52 55.00,204.52 55.00,205.20 56.58,205.20 56.58,206.43 58.55,206.43 58.55,207.97 59.59,207.97 59.59,208.78 60.00,208.78 60.00,209.10 62.58,209.10 62.58,209.28 65.51,209.28 65.51,209.48 65.80,209.48 65.80,209.50 67.90,209.50 67.90,211.60 69.40,211.60 69.40,213.10 69.70,213.10 69.70,213.40 72.44,213.40 72.44,214.30 74.31,214.30 74.31,214.90 74.60,214.90 74.60,215.00" fill="none" stroke="#1c1c1c" stroke-width="1.15" stroke-linejoin="miter"/>
<polyline points="74.60,215.00 123.75,215.00 124.50,218.00 125.30,228.75 154.25,228.75" fill="none" stroke="#1c1c1c" stroke-width="1.2" stroke-dasharray="1.8 0.9" stroke-linejoin="miter"/>
<polyline points="19.50,150.80 19.79,150.80 19.79,152.32 20.12,152.32 20.12,154.09 20.40,154.09 20.40,155.55 20.80,155.55 20.80,157.70 21.07,157.70 21.07,159.13 21.36,159.13 21.36,160.63 21.64,160.63 21.64,162.15 21.90,162.15 21.90,163.50 22.28,163.50 22.28,165.18 22.73,165.18 22.73,167.12 23.40,167.12 23.40,170.07 23.94,170.07 23.94,172.44 24.56,172.44 24.56,175.15 24.80,175.15 24.80,176.20 25.28,176.20 25.28,178.00 25.62,178.00 25.62,179.24 26.25,179.24 26.25,181.61 26.73,181.61 26.73,183.37 27.16,183.37 27.16,184.98 27.46,184.98 27.46,186.11 27.70,186.11 27.70,187.00 28.22,187.00 28.22,188.55 28.70,188.55 28.70,190.00 29.39,190.00 29.39,192.81 29.98,192.81 29.98,195.24 30.37,195.24 30.37,196.84 30.60,196.84 30.60,197.80 31.11,197.80 31.11,199.14 32.16,199.14 32.16,201.86 32.82,201.86 32.82,203.56 33.60,203.56 33.60,205.60 34.57,205.60 34.57,207.92 35.68,207.92 35.68,210.56 36.14,210.56 36.14,211.64 36.50,211.64 36.50,212.50 37.03,212.50 37.03,214.29 37.39,214.29 37.39,215.54 38.19,215.54 38.19,218.24 38.50,218.24 38.50,219.30 39.44,219.30 39.44,221.73 40.21,221.73 40.21,223.71 40.40,223.71 40.40,224.20 42.10,224.20 42.10,225.03 43.53,225.03 43.53,225.72 44.30,225.72 44.30,226.10 45.73,226.10 45.73,226.16 47.99,226.16 47.99,226.26 49.19,226.26 49.19,226.31 50.93,226.31 50.93,226.39 52.87,226.39 52.87,226.48 55.04,226.48 55.04,226.57 56.44,226.57 56.44,226.63 58.00,226.63 58.00,226.70 59.41,226.70 59.41,227.53 61.58,227.53 61.58,228.81 61.90,228.81 61.90,229.00 62.99,229.00 62.99,229.91 64.17,229.91 64.17,230.88 64.80,230.88 64.80,231.40 67.27,231.40 67.27,231.74 69.10,231.74 69.10,232.00 69.44,232.00 69.44,233.84 69.70,233.84 69.70,235.30" fill="none" stroke="#1c1c1c" stroke-width="1.0" stroke-linejoin="miter"/>
<text transform="translate(103.8 157.50050000000002)" font-size="3.55" text-anchor="middle" font-family="Liberation Serif, sans-serif" fill="#303030" stroke="#303030" stroke-width="0.2" font-weight="normal" >Category</text>
<text transform="translate(116.3 157.50050000000002)" font-size="3.55" text-anchor="middle" font-family="Liberation Serif, sans-serif" fill="#303030" stroke="#303030" stroke-width="0.2" font-weight="normal" >N</text>
<text transform="translate(130.6 157.50050000000002)" font-size="3.55" text-anchor="middle" font-family="Liberation Serif, sans-serif" fill="#303030" stroke="#303030" stroke-width="0.2" font-weight="normal" >Median</text>
<text transform="translate(146 157.50050000000002)" font-size="3.55" text-anchor="middle" font-family="Liberation Serif, sans-serif" fill="#303030" stroke="#303030" stroke-width="0.2" font-weight="normal" >95% CI</text>
<text transform="translate(98.9 163.75050000000002)" font-size="3.55" text-anchor="start" font-family="Liberation Serif, sans-serif" fill="#303030" stroke="#303030" stroke-width="0.2" font-weight="normal" >Low</text>
<text transform="translate(116.4 163.75050000000002)" font-size="3.55" text-anchor="middle" font-family="Liberation Serif, sans-serif" fill="#303030" stroke="#303030" stroke-width="0.2" font-weight="normal" >191</text>
<text transform="translate(129.3 163.75050000000002)" font-size="3.55" text-anchor="middle" font-family="Liberation Serif, sans-serif" fill="#303030" stroke="#303030" stroke-width="0.2" font-weight="normal" >46.0</text>
<text transform="translate(146.5 163.75050000000002)" font-size="3.55" text-anchor="middle" font-family="Liberation Serif, sans-serif" fill="#303030" stroke="#303030" stroke-width="0.2" font-weight="normal" >(29.9, NA)</text>
<text transform="translate(98.9 168.40050000000002)" font-size="3.55" text-anchor="start" font-family="Liberation Serif, sans-serif" fill="#303030" stroke="#303030" stroke-width="0.2" font-weight="normal" >Int</text>
<text transform="translate(116.4 168.40050000000002)" font-size="3.55" text-anchor="middle" font-family="Liberation Serif, sans-serif" fill="#303030" stroke="#303030" stroke-width="0.2" font-weight="normal" >197</text>
<text transform="translate(129.3 168.40050000000002)" font-size="3.55" text-anchor="middle" font-family="Liberation Serif, sans-serif" fill="#303030" stroke="#303030" stroke-width="0.2" font-weight="normal" >16.1</text>
<text transform="translate(146.5 168.40050000000002)" font-size="3.55" text-anchor="middle" font-family="Liberation Serif, sans-serif" fill="#303030" stroke="#303030" stroke-width="0.2" font-weight="normal" >(13.0, 21.0)</text>
<text transform="translate(98.9 173.00050000000002)" font-size="3.55" text-anchor="start" font-family="Liberation Serif, sans-serif" fill="#303030" stroke="#303030" stroke-width="0.2" font-weight="normal" >High</text>
<text transform="translate(116.4 173.00050000000002)" font-size="3.55" text-anchor="middle" font-family="Liberation Serif, sans-serif" fill="#303030" stroke="#303030" stroke-width="0.2" font-weight="normal" >161</text>
<text transform="translate(129.3 173.00050000000002)" font-size="3.55" text-anchor="middle" font-family="Liberation Serif, sans-serif" fill="#303030" stroke="#303030" stroke-width="0.2" font-weight="normal" >6.7</text>
<text transform="translate(146.5 173.00050000000002)" font-size="3.55" text-anchor="middle" font-family="Liberation Serif, sans-serif" fill="#303030" stroke="#303030" stroke-width="0.2" font-weight="normal" >(5.3, 8.3)</text>
<line x1="84.75" y1="162.25" x2="93.9" y2="162.25" stroke="#555" stroke-width="0.9" stroke-dasharray="3 0.7"/>
<line x1="84.75" y1="165.7" x2="93.9" y2="165.7" stroke="#444" stroke-width="0.9" stroke-dasharray="1.4 0.9"/>
<line x1="84.75" y1="169.4" x2="93.9" y2="169.4" stroke="#222" stroke-width="1.1"/>
<text transform="translate(127.5 182.0625)" font-size="3.75" text-anchor="middle" font-family="Liberation Serif, sans-serif" fill="#303030" stroke="#303030" stroke-width="0.2" font-weight="normal" >Logrank Chi-square = 120.0</text>
<text transform="translate(134 186.616)" font-size="3.6" text-anchor="middle" font-family="Liberation Serif, sans-serif" fill="#303030" stroke="#303030" stroke-width="0.2" font-weight="normal" ><tspan font-style="italic">P</tspan>&lt; 0.0001</text>
<text transform="translate(184.8 140.6)" font-size="10.6" text-anchor="start" font-family="Liberation Sans, sans-serif" fill="#000" stroke="#000" stroke-width="0" font-weight="bold" >E</text>
<rect x="202.4" y="146.6" width="138.9" height="90.1" fill="none" stroke="#acacac" stroke-width="0.8"/>
<line x1="202.5" y1="236.7" x2="202.5" y2="237.89999999999998" stroke="#acacac" stroke-width="0.6"/>
<text transform="translate(202.5 245.65540000000001)" font-size="6.3" text-anchor="middle" font-family="Liberation Sans, sans-serif" fill="#262626" stroke="#262626" stroke-width="0.22" font-weight="normal" >0</text>
<line x1="217.77777777777777" y1="236.7" x2="217.77777777777777" y2="237.89999999999998" stroke="#acacac" stroke-width="0.6"/>
<text transform="translate(217.77777777777777 245.65540000000001)" font-size="6.3" text-anchor="middle" font-family="Liberation Sans, sans-serif" fill="#262626" stroke="#262626" stroke-width="0.22" font-weight="normal" >10</text>
<line x1="233.05555555555554" y1="236.7" x2="233.05555555555554" y2="237.89999999999998" stroke="#acacac" stroke-width="0.6"/>
<text transform="translate(233.05555555555554 245.65540000000001)" font-size="6.3" text-anchor="middle" font-family="Liberation Sans, sans-serif" fill="#262626" stroke="#262626" stroke-width="0.22" font-weight="normal" >20</text>
<line x1="248.33333333333334" y1="236.7" x2="248.33333333333334" y2="237.89999999999998" stroke="#acacac" stroke-width="0.6"/>
<text transform="translate(248.33333333333334 245.65540000000001)" font-size="6.3" text-anchor="middle" font-family="Liberation Sans, sans-serif" fill="#262626" stroke="#262626" stroke-width="0.22" font-weight="normal" >30</text>
<line x1="263.6111111111111" y1="236.7" x2="263.6111111111111" y2="237.89999999999998" stroke="#acacac" stroke-width="0.6"/>
<text transform="translate(263.6111111111111 245.65540000000001)" font-size="6.3" text-anchor="middle" font-family="Liberation Sans, sans-serif" fill="#262626" stroke="#262626" stroke-width="0.22" font-weight="normal" >40</text>
<line x1="278.8888888888889" y1="236.7" x2="278.8888888888889" y2="237.89999999999998" stroke="#acacac" stroke-width="0.6"/>
<text transform="translate(278.8888888888889 245.65540000000001)" font-size="6.3" text-anchor="middle" font-family="Liberation Sans, sans-serif" fill="#262626" stroke="#262626" stroke-width="0.22" font-weight="normal" >50</text>
<line x1="294.1666666666667" y1="236.7" x2="294.1666666666667" y2="237.89999999999998" stroke="#acacac" stroke-width="0.6"/>
<text transform="translate(294.1666666666667 245.65540000000001)" font-size="6.3" text-anchor="middle" font-family="Liberation Sans, sans-serif" fill="#262626" stroke="#262626" stroke-width="0.22" font-weight="normal" >60</text>
<line x1="309.44444444444446" y1="236.7" x2="309.44444444444446" y2="237.89999999999998" stroke="#acacac" stroke-width="0.6"/>
<text transform="translate(309.44444444444446 245.65540000000001)" font-size="6.3" text-anchor="middle" font-family="Liberation Sans, sans-serif" fill="#262626" stroke="#262626" stroke-width="0.22" font-weight="normal" >70</text>
<line x1="324.72222222222223" y1="236.7" x2="324.72222222222223" y2="237.89999999999998" stroke="#acacac" stroke-width="0.6"/>
<text transform="translate(324.72222222222223 245.65540000000001)" font-size="6.3" text-anchor="middle" font-family="Liberation Sans, sans-serif" fill="#262626" stroke="#262626" stroke-width="0.22" font-weight="normal" >80</text>
<line x1="340.0" y1="236.7" x2="340.0" y2="237.89999999999998" stroke="#acacac" stroke-width="0.6"/>
<text transform="translate(340.0 245.65540000000001)" font-size="6.3" text-anchor="middle" font-family="Liberation Sans, sans-serif" fill="#262626" stroke="#262626" stroke-width="0.22" font-weight="normal" >90</text>
<line x1="201.20000000000002" y1="150.8" x2="202.4" y2="150.8" stroke="#acacac" stroke-width="0.6"/>
<text transform="translate(201.6 153.05540000000002)" font-size="6.3" text-anchor="end" font-family="Liberation Sans, sans-serif" fill="#262626" stroke="#262626" stroke-width="0.22" font-weight="normal" >1.0</text>
<line x1="201.20000000000002" y1="167.4" x2="202.4" y2="167.4" stroke="#acacac" stroke-width="0.6"/>
<text transform="translate(201.6 169.65540000000001)" font-size="6.3" text-anchor="end" font-family="Liberation Sans, sans-serif" fill="#262626" stroke="#262626" stroke-width="0.22" font-weight="normal" >0.8</text>
<line x1="201.20000000000002" y1="184.0" x2="202.4" y2="184.0" stroke="#acacac" stroke-width="0.6"/>
<text transform="translate(201.6 186.2554)" font-size="6.3" text-anchor="end" font-family="Liberation Sans, sans-serif" fill="#262626" stroke="#262626" stroke-width="0.22" font-weight="normal" >0.6</text>
<line x1="201.20000000000002" y1="200.60000000000002" x2="202.4" y2="200.60000000000002" stroke="#acacac" stroke-width="0.6"/>
<text transform="translate(201.6 202.85540000000003)" font-size="6.3" text-anchor="end" font-family="Liberation Sans, sans-serif" fill="#262626" stroke="#262626" stroke-width="0.22" font-weight="normal" >0.4</text>
<line x1="201.20000000000002" y1="217.20000000000002" x2="202.4" y2="217.20000000000002" stroke="#acacac" stroke-width="0.6"/>
<text transform="translate(201.6 219.45540000000003)" font-size="6.3" text-anchor="end" font-family="Liberation Sans, sans-serif" fill="#262626" stroke="#262626" stroke-width="0.22" font-weight="normal" >0.2</text>
<line x1="201.20000000000002" y1="233.8" x2="202.4" y2="233.8" stroke="#acacac" stroke-width="0.6"/>
<text transform="translate(201.6 236.05540000000002)" font-size="6.3" text-anchor="end" font-family="Liberation Sans, sans-serif" fill="#262626" stroke="#262626" stroke-width="0.22" font-weight="normal" >0.0</text>
<text transform="translate(272.3 253.09716799999998) scale(0.90045 1)" font-size="6.696000000000001" text-anchor="middle" font-family="Liberation Sans, sans-serif" fill="#262626" stroke="#262626" stroke-width="0.22" font-weight="normal" >Months</text>
<text transform="translate(189.4 190.6) rotate(-90) scale(0.9222 1)" font-size="6.696000000000001" text-anchor="middle" font-family="Liberation Sans, sans-serif" fill="#262626" stroke="#262626" stroke-width="0.22" font-weight="normal" >Proportion Surviving</text>
<polyline points="202.30,150.80 203.58,150.80 203.58,152.31 204.97,152.31 204.97,153.94 206.44,153.94 206.44,155.67 206.80,155.67 206.80,156.10 208.17,156.10 208.17,156.80 209.50,156.80 209.50,157.48 211.70,157.48 211.70,158.60 214.19,158.60 214.19,159.89 217.19,159.89 217.19,161.44 217.50,161.44 217.50,161.60 219.55,161.60 219.55,162.26 222.45,162.26 222.45,163.20 223.40,163.20 223.40,163.50 224.99,163.50 224.99,164.64 227.51,164.64 227.51,166.44 228.30,166.44 228.30,167.00 231.83,167.00 231.83,168.22 234.10,168.22 234.10,169.00 236.00,169.00 236.00,169.64 238.80,169.64 238.80,170.59 240.00,170.59 240.00,171.00 242.30,171.00 242.30,171.89 244.52,171.89 244.52,172.75 244.90,172.75 244.90,172.90 246.62,172.90 246.62,174.52 248.24,174.52 248.24,176.05 248.40,176.05 248.40,176.20 249.53,176.20 249.53,177.98 250.30,177.98 250.30,179.20 250.49,179.20 250.49,181.60 250.70,181.60 250.70,184.17 250.70,184.17 250.70,184.20" fill="none" stroke="#1c1c1c" stroke-width="1.15" stroke-linejoin="miter"/>
<polyline points="250.70,184.20 272.00,184.20 272.00,187.50 288.75,187.50 288.75,193.75" fill="none" stroke="#2a2a2a" stroke-width="1.0" stroke-linejoin="miter"/>
<polyline points="250.70,184.20 272.00,184.20 272.00,187.50 288.75,187.50 288.75,193.75" fill="none" stroke="#222" stroke-width="1.6" stroke-dasharray="0.9 3.6" stroke-linejoin="miter"/>
<polyline points="288.75,193.75 332.50,193.75" fill="none" stroke="#505050" stroke-width="0.85" stroke-linejoin="miter"/>
<polyline points="288.75,193.75 332.50,193.75" fill="none" stroke="#2a2a2a" stroke-width="1.6" stroke-dasharray="1.0 4.2" stroke-linejoin="miter"/>
<polyline points="202.30,150.80 203.34,150.80 203.34,153.11 204.02,153.11 204.02,154.64 204.59,154.64 204.59,155.91 205.36,155.91 205.36,157.62 205.80,157.62 205.80,158.60 206.54,158.60 206.54,159.91 207.70,159.91 207.70,161.97 208.98,161.97 208.98,164.23 209.70,164.23 209.70,165.50 211.08,165.50 211.08,167.70 211.75,167.70 211.75,168.76 212.80,168.76 212.80,170.44 213.83,170.44 213.83,172.07 214.53,172.07 214.53,173.19 214.60,173.19 214.60,173.30 215.37,173.30 215.37,174.36 216.65,174.36 216.65,176.14 218.03,176.14 218.03,178.06 219.28,178.06 219.28,179.80 219.50,179.80 219.50,180.10 220.44,180.10 220.44,181.52 221.13,181.52 221.13,182.56 222.17,182.56 222.17,184.14 223.40,184.14 223.40,186.00 224.76,186.00 224.76,187.89 225.77,187.89 225.77,189.29 227.25,189.29 227.25,191.35 228.17,191.35 228.17,192.62 228.30,192.62 228.30,192.80 229.92,192.80 229.92,194.61 231.99,194.61 231.99,196.93 232.50,196.93 232.50,197.50 234.34,197.50 234.34,198.97 236.75,198.97 236.75,200.90 238.75,200.90 238.75,202.50 240.85,202.50 240.85,203.76 242.95,203.76 242.95,205.02 244.68,205.02 244.68,206.06 245.00,206.06 245.00,206.25 246.69,206.25 246.69,206.72 249.44,206.72 249.44,207.49 251.25,207.49 251.25,208.00 253.12,208.00 253.12,208.60 256.00,208.60 256.00,209.52 257.21,209.52 257.21,209.91 257.50,209.91 257.50,210.00 259.23,210.00 259.23,211.38 260.00,211.38 260.00,212.00" fill="none" stroke="#1c1c1c" stroke-width="1.15" stroke-linejoin="miter"/>
<polyline points="260.00,212.00 282.50,212.00 282.50,214.50 306.25,214.50 307.50,227.00 335.00,227.00" fill="none" stroke="#1c1c1c" stroke-width="1.2" stroke-dasharray="1.8 0.9" stroke-linejoin="miter"/>
<polyline points="202.30,150.80 202.69,150.80 202.69,152.58 203.34,152.58 203.34,155.51 203.65,155.51 203.65,156.90 203.98,156.90 203.98,158.37 204.25,158.37 204.25,159.60 204.86,159.60 204.86,161.95 205.26,161.95 205.26,163.49 205.55,163.49 205.55,164.59 206.10,164.59 206.10,166.70 206.57,166.70 206.57,168.52 206.80,168.52 206.80,169.40 207.31,169.40 207.31,171.41 207.90,171.41 207.90,173.71 208.44,173.71 208.44,175.83 209.02,175.83 209.02,178.08 209.30,178.08 209.30,179.20 210.05,179.20 210.05,181.81 210.88,181.81 210.88,184.68 211.37,184.68 211.37,186.38 211.87,186.38 211.87,188.11 212.10,188.11 212.10,188.90 212.59,188.90 212.59,190.56 213.30,190.56 213.30,192.96 213.60,192.96 213.60,194.00 214.69,194.00 214.69,196.19 215.20,196.19 215.20,197.20 216.41,197.20 216.41,199.62 217.06,199.62 217.06,200.91 218.09,200.91 218.09,202.99 219.02,202.99 219.02,204.84 219.90,204.84 219.90,206.60 220.59,206.60 220.59,208.31 221.22,208.31 221.22,209.87 222.18,209.87 222.18,212.24 222.99,212.24 222.99,214.24 223.59,214.24 223.59,215.72 223.70,215.72 223.70,216.00 224.85,216.00 224.85,217.33 225.81,217.33 225.81,218.45 227.19,218.45 227.19,220.05 228.09,220.05 228.09,221.10 228.92,221.10 228.92,222.05 229.30,222.05 229.30,222.50 230.63,222.50 230.63,222.61 233.10,222.61 233.10,222.81 234.45,222.81 234.45,222.92 236.44,222.92 236.44,223.09 239.04,223.09 239.04,223.30 241.09,223.30 241.09,223.47 241.50,223.47 241.50,223.50 243.99,223.50 243.99,224.75 246.49,224.75 246.49,225.99 247.10,225.99 247.10,226.30 248.60,226.30 248.60,226.92 250.55,226.92 250.55,227.72 252.70,227.72 252.70,228.60 254.59,228.60 254.59,228.63 257.09,228.63 257.09,228.66 258.70,228.66 258.70,228.68 260.00,228.68 260.00,228.70 299.50,228.70" fill="none" stroke="#1c1c1c" stroke-width="1.0" stroke-linejoin="miter"/>
<text transform="translate(265.6 151.50050000000002)" font-size="3.55" text-anchor="middle" font-family="Liberation Serif, sans-serif" fill="#303030" stroke="#303030" stroke-width="0.2" font-weight="normal" >Karyotype</text>
<text transform="translate(280 151.50050000000002)" font-size="3.55" text-anchor="middle" font-family="Liberation Serif, sans-serif" fill="#303030" stroke="#303030" stroke-width="0.2" font-weight="normal" >B2M</text>
<text transform="translate(292.5 151.50050000000002)" font-size="3.55" text-anchor="middle" font-family="Liberation Serif, sans-serif" fill="#303030" stroke="#303030" stroke-width="0.2" font-weight="normal" >N</text>
<text transform="translate(305.3 151.50050000000002)" font-size="3.55" text-anchor="middle" font-family="Liberation Serif, sans-serif" fill="#303030" stroke="#303030" stroke-width="0.2" font-weight="normal" >Median</text>
<text transform="translate(322.3 151.50050000000002)" font-size="3.55" text-anchor="middle" font-family="Liberation Serif, sans-serif" fill="#303030" stroke="#303030" stroke-width="0.2" font-weight="normal" >95% CI</text>
<text transform="translate(261.9 158.00050000000002)" font-size="3.55" text-anchor="start" font-family="Liberation Serif, sans-serif" fill="#303030" stroke="#303030" stroke-width="0.2" font-weight="normal" >Good/Int</text>
<text transform="translate(280.8 158.00050000000002)" font-size="3.55" text-anchor="middle" font-family="Liberation Serif, sans-serif" fill="#303030" stroke="#303030" stroke-width="0.2" font-weight="normal" >≤2</text>
<text transform="translate(292.5 158.00050000000002)" font-size="3.55" text-anchor="middle" font-family="Liberation Serif, sans-serif" fill="#303030" stroke="#303030" stroke-width="0.2" font-weight="normal" >113</text>
<text transform="translate(304.6 158.00050000000002)" font-size="3.55" text-anchor="middle" font-family="Liberation Serif, sans-serif" fill="#303030" stroke="#303030" stroke-width="0.2" font-weight="normal" >59.6</text>
<text transform="translate(322.5 158.00050000000002)" font-size="3.55" text-anchor="middle" font-family="Liberation Serif, sans-serif" fill="#303030" stroke="#303030" stroke-width="0.2" font-weight="normal" >(33.9, NA)</text>
<text transform="translate(261.9 162.40050000000002)" font-size="3.55" text-anchor="start" font-family="Liberation Serif, sans-serif" fill="#303030" stroke="#303030" stroke-width="0.2" font-weight="normal" >Good/Int</text>
<text transform="translate(280.8 162.40050000000002)" font-size="3.55" text-anchor="middle" font-family="Liberation Serif, sans-serif" fill="#303030" stroke="#303030" stroke-width="0.2" font-weight="normal" >&gt;2</text>
<text transform="translate(292.5 162.40050000000002)" font-size="3.55" text-anchor="middle" font-family="Liberation Serif, sans-serif" fill="#303030" stroke="#303030" stroke-width="0.2" font-weight="normal" >237</text>
<text transform="translate(304.6 162.40050000000002)" font-size="3.55" text-anchor="middle" font-family="Liberation Serif, sans-serif" fill="#303030" stroke="#303030" stroke-width="0.2" font-weight="normal" >16.5</text>
<text transform="translate(322.5 162.40050000000002)" font-size="3.55" text-anchor="middle" font-family="Liberation Serif, sans-serif" fill="#303030" stroke="#303030" stroke-width="0.2" font-weight="normal" >(14.1, 21.9)</text>
<text transform="translate(261.9 167.00050000000002)" font-size="3.55" text-anchor="start" font-family="Liberation Serif, sans-serif" fill="#303030" stroke="#303030" stroke-width="0.2" font-weight="normal" >Poor</text>
<text transform="translate(280.8 167.00050000000002)" font-size="3.55" text-anchor="middle" font-family="Liberation Serif, sans-serif" fill="#303030" stroke="#303030" stroke-width="0.2" font-weight="normal" >–</text>
<text transform="translate(292.5 167.00050000000002)" font-size="3.55" text-anchor="middle" font-family="Liberation Serif, sans-serif" fill="#303030" stroke="#303030" stroke-width="0.2" font-weight="normal" >159</text>
<text transform="translate(304.6 167.00050000000002)" font-size="3.55" text-anchor="middle" font-family="Liberation Serif, sans-serif" fill="#303030" stroke="#303030" stroke-width="0.2" font-weight="normal" >7.1</text>
<text transform="translate(322.5 167.00050000000002)" font-size="3.55" text-anchor="middle" font-family="Liberation Serif, sans-serif" fill="#303030" stroke="#303030" stroke-width="0.2" font-weight="normal" >(6.2, 8.9)</text>
<line x1="251.9" y1="156.9" x2="260.6" y2="156.9" stroke="#555" stroke-width="0.9" stroke-dasharray="3 0.7"/>
<line x1="251.9" y1="160.4" x2="260.6" y2="160.4" stroke="#444" stroke-width="0.9" stroke-dasharray="1.4 0.9"/>
<line x1="251.9" y1="164.1" x2="260.6" y2="164.1" stroke="#222" stroke-width="1.1"/>
<text transform="translate(295.5 175.8718)" font-size="3.78" text-anchor="middle" font-family="Liberation Serif, sans-serif" fill="#303030" stroke="#303030" stroke-width="0.2" font-weight="normal" >Logrank Chi-square = 102.9</text>
<text transform="translate(298.8 179.91600000000003)" font-size="3.6" text-anchor="middle" font-family="Liberation Serif, sans-serif" fill="#303030" stroke="#303030" stroke-width="0.2" font-weight="normal" ><tspan font-style="italic">P</tspan>&lt; 0.0001</text></g></svg>
</body></html>
